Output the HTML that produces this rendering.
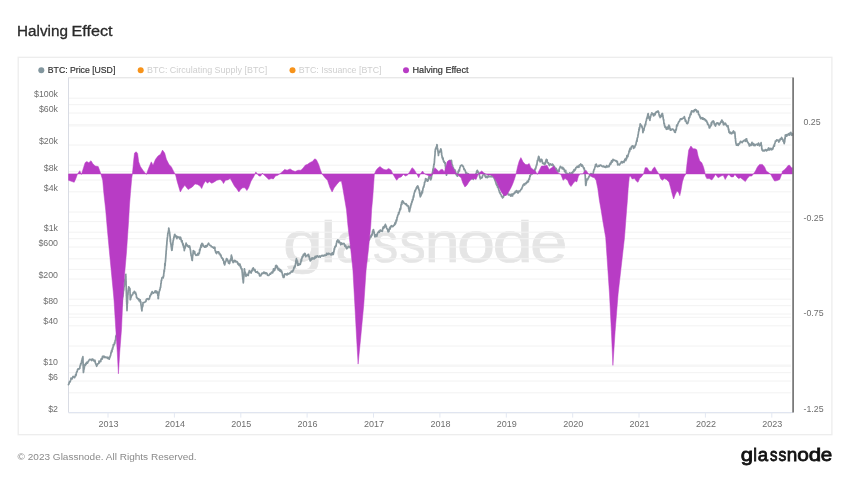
<!DOCTYPE html>
<html><head><meta charset="utf-8"><title>Halving Effect</title>
<style>html,body{margin:0;padding:0;background:#fff;}body{width:850px;height:478px;position:relative;overflow:hidden;font-family:"Liberation Sans",sans-serif;}</style>
</head><body>
<svg width="850" height="478" viewBox="0 0 850 478" style="position:absolute;left:0;top:0">
<rect x="18.2" y="57.3" width="813.7" height="377.4" fill="#fff" stroke="#ededed" stroke-width="1.3"/>
<text y="262" font-family="Liberation Sans, sans-serif" font-size="58" fill="#e5e5e5" stroke="#e5e5e5" stroke-width="0.7"><tspan x="282.93" textLength="39.95" lengthAdjust="spacingAndGlyphs">g</tspan><tspan x="320.32" textLength="15.93" lengthAdjust="spacingAndGlyphs">l</tspan><tspan x="335.26" textLength="33.89" lengthAdjust="spacingAndGlyphs">a</tspan><tspan x="373.05" textLength="25.11" lengthAdjust="spacingAndGlyphs">s</tspan><tspan x="399.39" textLength="26.14" lengthAdjust="spacingAndGlyphs">s</tspan><tspan x="424.69" textLength="34.82" lengthAdjust="spacingAndGlyphs">n</tspan><tspan x="456.98" textLength="38.05" lengthAdjust="spacingAndGlyphs">o</tspan><tspan x="492.59" textLength="40.56" lengthAdjust="spacingAndGlyphs">d</tspan><tspan x="530.09" textLength="37.45" lengthAdjust="spacingAndGlyphs">e</tspan></text>
<line x1="68.5" x2="791.0" y1="413.0" y2="413.0" stroke="#f2f2f2" stroke-width="1"/>
<line x1="68.5" x2="791.0" y1="392.8" y2="392.8" stroke="#f2f2f2" stroke-width="1"/>
<line x1="68.5" x2="791.0" y1="381.0" y2="381.0" stroke="#f2f2f2" stroke-width="1"/>
<line x1="68.5" x2="791.0" y1="372.7" y2="372.7" stroke="#f2f2f2" stroke-width="1"/>
<line x1="68.5" x2="791.0" y1="366.2" y2="366.2" stroke="#f2f2f2" stroke-width="1"/>
<line x1="68.5" x2="791.0" y1="346.0" y2="346.0" stroke="#f2f2f2" stroke-width="1"/>
<line x1="68.5" x2="791.0" y1="325.8" y2="325.8" stroke="#f2f2f2" stroke-width="1"/>
<line x1="68.5" x2="791.0" y1="314.0" y2="314.0" stroke="#f2f2f2" stroke-width="1"/>
<line x1="68.5" x2="791.0" y1="305.7" y2="305.7" stroke="#f2f2f2" stroke-width="1"/>
<line x1="68.5" x2="791.0" y1="299.2" y2="299.2" stroke="#f2f2f2" stroke-width="1"/>
<line x1="68.5" x2="791.0" y1="279.0" y2="279.0" stroke="#f2f2f2" stroke-width="1"/>
<line x1="68.5" x2="791.0" y1="258.8" y2="258.8" stroke="#f2f2f2" stroke-width="1"/>
<line x1="68.5" x2="791.0" y1="247.0" y2="247.0" stroke="#f2f2f2" stroke-width="1"/>
<line x1="68.5" x2="791.0" y1="238.7" y2="238.7" stroke="#f2f2f2" stroke-width="1"/>
<line x1="68.5" x2="791.0" y1="232.2" y2="232.2" stroke="#f2f2f2" stroke-width="1"/>
<line x1="68.5" x2="791.0" y1="212.0" y2="212.0" stroke="#f2f2f2" stroke-width="1"/>
<line x1="68.5" x2="791.0" y1="191.8" y2="191.8" stroke="#f2f2f2" stroke-width="1"/>
<line x1="68.5" x2="791.0" y1="180.0" y2="180.0" stroke="#f2f2f2" stroke-width="1"/>
<line x1="68.5" x2="791.0" y1="171.7" y2="171.7" stroke="#f2f2f2" stroke-width="1"/>
<line x1="68.5" x2="791.0" y1="165.2" y2="165.2" stroke="#f2f2f2" stroke-width="1"/>
<line x1="68.5" x2="791.0" y1="145.0" y2="145.0" stroke="#f2f2f2" stroke-width="1"/>
<line x1="68.5" x2="791.0" y1="124.8" y2="124.8" stroke="#f2f2f2" stroke-width="1"/>
<line x1="68.5" x2="791.0" y1="113.0" y2="113.0" stroke="#f2f2f2" stroke-width="1"/>
<line x1="68.5" x2="791.0" y1="104.7" y2="104.7" stroke="#f2f2f2" stroke-width="1"/>
<line x1="68.5" x2="791.0" y1="98.2" y2="98.2" stroke="#f2f2f2" stroke-width="1"/>
<line x1="68.5" x2="791.0" y1="78.0" y2="78.0" stroke="#f2f2f2" stroke-width="1"/>
<line x1="68.5" x2="791.0" y1="125.9" y2="125.9" stroke="#f3f3f3" stroke-width="1"/>
<line x1="68.5" x2="791.0" y1="173.7" y2="173.7" stroke="#f3f3f3" stroke-width="1"/>
<line x1="68.5" x2="791.0" y1="221.6" y2="221.6" stroke="#f3f3f3" stroke-width="1"/>
<line x1="68.5" x2="791.0" y1="269.4" y2="269.4" stroke="#f3f3f3" stroke-width="1"/>
<line x1="68.5" x2="791.0" y1="317.3" y2="317.3" stroke="#f3f3f3" stroke-width="1"/>
<line x1="68.5" x2="791.0" y1="365.1" y2="365.1" stroke="#f3f3f3" stroke-width="1"/>
<line x1="68.5" x2="793.0" y1="77.6" y2="77.6" stroke="#e6e6e6" stroke-width="1"/>
<line x1="68.5" x2="68.5" y1="77.6" y2="412.6" stroke="#d9dce4" stroke-width="1"/>
<line x1="68.5" x2="793.0" y1="412.6" y2="412.6" stroke="#dde3ef" stroke-width="1"/>
<line x1="108.0" x2="108.0" y1="412.6" y2="417.6" stroke="#e3e8f2" stroke-width="1"/>
<line x1="174.4" x2="174.4" y1="412.6" y2="417.6" stroke="#e3e8f2" stroke-width="1"/>
<line x1="240.8" x2="240.8" y1="412.6" y2="417.6" stroke="#e3e8f2" stroke-width="1"/>
<line x1="307.1" x2="307.1" y1="412.6" y2="417.6" stroke="#e3e8f2" stroke-width="1"/>
<line x1="373.5" x2="373.5" y1="412.6" y2="417.6" stroke="#e3e8f2" stroke-width="1"/>
<line x1="439.9" x2="439.9" y1="412.6" y2="417.6" stroke="#e3e8f2" stroke-width="1"/>
<line x1="506.3" x2="506.3" y1="412.6" y2="417.6" stroke="#e3e8f2" stroke-width="1"/>
<line x1="572.7" x2="572.7" y1="412.6" y2="417.6" stroke="#e3e8f2" stroke-width="1"/>
<line x1="639.0" x2="639.0" y1="412.6" y2="417.6" stroke="#e3e8f2" stroke-width="1"/>
<line x1="705.4" x2="705.4" y1="412.6" y2="417.6" stroke="#e3e8f2" stroke-width="1"/>
<line x1="771.8" x2="771.8" y1="412.6" y2="417.6" stroke="#e3e8f2" stroke-width="1"/>
<path d="M68.5,384.6 L68.7,384.0 L68.9,384.0 L69.1,383.3 L69.3,382.6 L69.5,381.7 L69.7,381.6 L69.8,382.2 L70.0,381.7 L70.2,381.7 L70.4,380.8 L70.6,380.3 L70.8,379.7 L71.0,378.0 L71.2,378.7 L71.7,378.9 L72.2,378.8 L72.7,377.2 L73.1,376.5 L73.6,376.8 L74.1,377.1 L74.6,377.7 L74.8,377.2 L74.9,377.2 L75.1,376.1 L75.3,376.1 L75.5,375.8 L75.6,374.7 L75.8,375.7 L76.0,375.0 L76.2,374.9 L76.3,373.3 L76.5,372.4 L76.7,372.0 L76.9,371.8 L77.0,371.9 L77.2,371.4 L77.4,370.5 L77.6,369.5 L77.7,369.2 L77.9,369.6 L78.3,368.8 L78.8,369.0 L79.2,369.0 L79.6,368.2 L79.7,367.8 L79.8,368.4 L80.0,366.0 L80.1,366.1 L80.2,366.0 L80.3,365.1 L80.5,365.5 L80.6,364.9 L80.7,363.5 L80.8,364.3 L81.0,364.1 L81.1,364.0 L81.2,363.1 L81.4,363.0 L81.5,362.1 L81.7,360.5 L81.8,361.0 L82.0,360.1 L82.1,359.5 L82.3,358.5 L82.4,358.0 L82.6,357.9 L82.7,358.8 L82.9,357.3 L82.9,356.7 L82.9,358.3 L82.9,360.0 L83.0,360.2 L83.0,358.9 L83.0,358.3 L83.0,360.4 L83.0,360.6 L83.0,360.8 L83.1,362.6 L83.1,363.6 L83.1,363.6 L83.1,363.9 L83.1,364.5 L83.1,365.8 L83.2,365.8 L83.2,366.1 L83.2,366.5 L83.2,365.4 L83.2,367.4 L83.2,368.1 L83.2,368.3 L83.3,367.0 L83.3,367.7 L83.3,369.3 L83.3,368.3 L83.3,369.4 L83.3,370.9 L83.4,370.1 L83.4,372.2 L83.4,372.4 L83.4,372.2 L83.5,372.0 L83.6,371.8 L83.6,371.1 L83.7,371.2 L83.8,369.7 L83.9,369.1 L84.0,369.5 L84.0,368.7 L84.1,367.5 L84.2,368.0 L84.3,368.3 L84.4,366.7 L84.4,365.2 L84.5,365.2 L84.6,365.1 L85.0,364.5 L85.3,365.4 L85.7,363.7 L86.0,364.5 L86.4,362.8 L86.7,362.3 L87.1,362.8 L87.4,363.2 L87.7,362.8 L87.9,362.1 L88.2,361.5 L88.5,361.0 L88.8,360.9 L89.0,360.1 L89.3,359.9 L89.6,359.4 L90.1,359.4 L90.6,359.7 L91.1,359.6 L91.6,360.5 L92.1,359.0 L92.5,359.1 L92.8,359.2 L93.2,359.6 L93.5,360.7 L93.9,360.3 L94.2,360.9 L94.6,361.4 L94.8,360.1 L95.0,360.6 L95.2,362.0 L95.4,362.9 L95.5,363.4 L95.7,363.4 L95.9,364.4 L96.1,364.8 L96.3,364.8 L96.7,366.3 L97.1,365.2 L97.5,364.1 L98.0,363.9 L98.4,363.5 L98.8,363.5 L99.0,361.1 L99.3,361.6 L99.5,362.6 L99.8,361.1 L100.0,361.1 L100.3,361.5 L100.5,361.4 L100.8,361.5 L101.0,359.0 L101.3,359.1 L101.6,358.5 L101.9,358.9 L102.2,359.1 L102.5,356.3 L102.9,357.8 L103.2,356.3 L103.5,357.0 L103.8,356.2 L104.3,356.4 L104.8,357.5 L105.3,357.0 L105.7,357.1 L106.2,357.6 L106.7,357.4 L107.2,357.2 L107.7,358.3 L108.2,358.3 L108.7,357.4 L109.2,359.2 L109.7,357.2 L109.9,357.3 L110.0,356.3 L110.2,355.9 L110.4,355.9 L110.6,355.2 L110.7,355.0 L110.9,353.1 L111.1,352.2 L111.2,353.0 L111.4,352.4 L111.5,351.2 L111.6,350.3 L111.8,351.7 L111.9,351.5 L112.0,351.6 L112.1,349.7 L112.3,349.4 L112.4,348.2 L112.5,348.8 L112.6,349.3 L112.8,347.5 L112.9,348.3 L113.0,347.1 L113.2,346.6 L113.3,344.7 L113.5,346.1 L113.7,345.2 L113.8,344.3 L114.0,344.4 L114.2,344.2 L114.4,344.6 L114.5,342.7 L114.7,342.8 L114.8,343.4 L114.9,343.2 L115.0,341.6 L115.2,340.4 L115.3,340.9 L115.4,340.2 L115.5,339.7 L115.6,340.1 L115.7,338.8 L115.8,336.6 L115.9,336.9 L116.1,335.7 L116.2,336.8 L116.3,336.6 L116.4,335.8 L116.5,335.3 L116.6,335.5 L116.6,334.8 L116.7,335.1 L116.8,334.0 L116.9,334.1 L116.9,334.1 L117.0,333.9 L117.1,332.0 L117.2,332.1 L117.2,329.9 L117.3,329.4 L117.4,328.3 L117.5,329.8 L117.5,328.4 L117.6,328.5 L117.7,328.1 L117.8,327.8 L117.9,327.0 L117.9,327.0 L118.0,327.8 L118.1,326.6 L118.2,326.2 L118.2,326.1 L118.3,325.0 L118.4,323.5 L118.5,323.2 L118.5,324.0 L118.6,322.0 L118.7,321.8 L118.8,322.6 L118.9,322.4 L118.9,321.5 L119.0,321.4 L119.1,320.7 L119.2,319.2 L119.2,318.1 L119.3,318.1 L119.4,318.9 L119.5,317.8 L119.5,316.9 L119.6,316.4 L119.7,315.4 L119.8,315.8 L119.8,314.9 L119.9,315.3 L120.0,314.5 L120.1,314.2 L120.1,313.5 L120.2,312.1 L120.3,313.2 L120.3,312.6 L120.4,310.7 L120.5,310.7 L120.5,311.2 L120.6,310.6 L120.6,310.9 L120.7,310.8 L120.8,310.3 L120.8,309.7 L120.9,309.8 L121.0,309.2 L121.0,308.5 L121.1,306.2 L121.2,307.2 L121.2,307.5 L121.3,306.2 L121.3,305.3 L121.4,306.4 L121.5,303.9 L121.5,304.3 L121.6,305.6 L121.7,303.3 L121.7,303.4 L121.8,304.0 L121.9,302.5 L121.9,302.2 L122.0,302.0 L122.1,300.4 L122.1,300.1 L122.2,300.0 L122.2,300.0 L122.3,299.1 L122.4,298.4 L122.4,297.3 L122.5,297.1 L122.6,297.6 L122.6,296.9 L122.7,295.7 L122.8,295.0 L122.8,297.0 L122.9,296.3 L123.0,295.4 L123.0,292.5 L123.1,293.5 L123.1,293.4 L123.2,294.0 L123.3,293.0 L123.3,292.0 L123.4,291.8 L123.5,289.7 L123.5,290.7 L123.6,290.1 L123.7,289.2 L123.7,289.9 L123.8,290.2 L123.9,287.7 L123.9,287.1 L124.0,287.3 L124.1,286.9 L124.1,286.1 L124.2,285.1 L124.2,286.7 L124.3,286.1 L124.4,284.1 L124.4,283.0 L124.5,284.4 L124.6,284.1 L124.6,284.3 L124.7,283.4 L124.8,281.6 L124.8,281.4 L124.9,279.4 L125.0,279.4 L125.0,279.6 L125.1,279.7 L125.2,278.6 L125.2,278.4 L125.3,278.4 L125.3,278.0 L125.4,277.8 L125.5,277.1 L125.5,276.2 L125.6,276.4 L125.7,275.6 L125.7,274.5 L125.8,274.3 L125.8,274.7 L125.8,275.3 L125.8,275.9 L125.9,276.3 L125.9,276.9 L125.9,277.2 L125.9,276.8 L125.9,278.1 L125.9,279.3 L125.9,279.6 L126.0,279.6 L126.0,280.3 L126.0,279.9 L126.0,279.4 L126.0,280.8 L126.0,281.0 L126.0,282.5 L126.1,282.0 L126.1,281.1 L126.1,282.2 L126.1,284.7 L126.1,284.5 L126.1,284.0 L126.1,284.6 L126.2,285.9 L126.2,286.7 L126.2,287.0 L126.2,288.4 L126.2,288.6 L126.2,288.5 L126.2,289.1 L126.3,290.4 L126.3,290.7 L126.3,291.1 L126.3,290.1 L126.3,290.7 L126.3,291.8 L126.3,291.7 L126.4,293.0 L126.4,293.4 L126.4,294.0 L126.4,293.8 L126.4,295.9 L126.4,296.0 L126.4,295.4 L126.5,295.6 L126.5,297.8 L126.5,296.8 L126.5,297.6 L126.5,298.2 L126.5,298.1 L126.5,297.5 L126.6,298.5 L126.6,299.3 L126.6,300.4 L126.6,300.3 L126.6,300.8 L126.6,301.6 L126.7,302.0 L126.7,302.2 L126.7,302.5 L126.7,302.7 L126.7,303.7 L126.7,303.2 L126.8,303.6 L126.8,304.5 L126.8,304.0 L126.8,304.9 L126.8,304.4 L126.9,305.5 L126.9,307.1 L126.9,307.9 L126.9,308.1 L126.9,308.3 L126.9,307.9 L127.0,310.3 L127.0,310.5 L127.0,310.6 L127.0,309.6 L127.1,309.2 L127.1,307.6 L127.1,308.5 L127.1,308.7 L127.2,306.4 L127.2,306.7 L127.2,306.9 L127.2,305.0 L127.3,304.0 L127.3,303.9 L127.3,303.9 L127.3,303.0 L127.4,303.4 L127.4,303.4 L127.4,303.4 L127.4,303.1 L127.5,303.3 L127.5,302.8 L127.5,300.6 L127.5,300.1 L127.6,299.2 L127.6,298.6 L127.6,298.8 L127.6,298.6 L127.7,298.6 L127.7,296.8 L127.7,296.2 L127.7,296.5 L127.8,296.2 L127.8,295.9 L127.8,295.4 L127.9,294.5 L127.9,294.9 L128.0,294.5 L128.0,293.8 L128.1,292.9 L128.1,292.6 L128.2,290.4 L128.2,290.6 L128.2,291.0 L128.3,289.8 L128.3,290.3 L128.4,290.2 L128.4,288.7 L128.5,288.7 L128.5,288.4 L128.6,288.5 L128.6,288.4 L128.7,287.6 L128.7,286.8 L128.9,287.1 L129.2,287.7 L129.4,288.7 L129.7,289.0 L129.9,288.9 L129.9,288.4 L129.9,289.3 L130.0,289.6 L130.0,289.8 L130.0,290.8 L130.0,291.2 L130.0,292.1 L130.0,293.0 L130.1,292.9 L130.1,295.1 L130.1,294.3 L130.1,295.3 L130.1,295.3 L130.2,296.3 L130.2,294.5 L130.2,295.3 L130.2,296.6 L130.2,297.5 L130.2,299.4 L130.3,298.9 L130.3,299.7 L130.3,299.3 L130.5,299.6 L130.6,298.8 L130.8,297.8 L131.0,297.6 L131.1,296.2 L131.3,296.9 L131.5,295.4 L131.6,295.4 L131.8,295.4 L132.1,295.0 L132.4,294.4 L132.6,294.7 L132.9,293.8 L133.2,292.6 L133.5,292.7 L133.7,292.7 L134.0,292.5 L134.3,291.4 L134.7,292.8 L135.2,293.5 L135.6,292.4 L135.7,293.0 L135.8,293.0 L135.9,294.5 L136.0,293.9 L136.1,294.9 L136.2,294.8 L136.3,294.9 L136.4,296.2 L136.5,297.4 L136.6,297.2 L136.7,297.0 L136.8,297.9 L137.3,298.1 L137.8,298.4 L138.2,299.4 L138.7,298.8 L138.9,298.9 L139.1,300.8 L139.3,300.2 L139.5,300.7 L139.8,300.2 L140.0,300.7 L140.2,299.9 L140.4,302.4 L140.6,302.4 L140.7,302.0 L140.7,301.7 L140.8,301.8 L140.9,304.1 L140.9,304.1 L141.0,304.6 L141.1,305.0 L141.1,305.5 L141.2,305.3 L141.3,306.3 L141.3,306.0 L141.4,307.1 L141.5,308.1 L141.5,308.8 L141.6,308.9 L141.7,308.7 L141.7,309.7 L141.8,310.2 L141.9,310.8 L142.0,310.2 L142.0,309.1 L142.1,308.2 L142.2,307.4 L142.3,306.6 L142.4,306.5 L142.4,306.6 L142.5,306.4 L142.6,306.1 L142.7,306.8 L142.8,304.8 L142.9,304.2 L142.9,305.7 L143.0,302.7 L143.1,302.6 L143.6,302.5 L144.1,302.5 L144.5,302.5 L145.0,302.0 L145.3,301.8 L145.6,301.3 L145.9,301.4 L146.3,299.3 L146.6,299.0 L146.9,299.5 L147.5,298.8 L148.1,298.6 L148.7,299.6 L148.9,298.7 L149.1,299.0 L149.3,298.9 L149.5,298.3 L149.6,297.9 L149.8,297.1 L150.0,295.6 L150.2,295.7 L150.4,295.8 L150.6,295.1 L150.8,294.6 L151.0,294.7 L151.2,293.4 L151.3,293.6 L151.5,294.3 L151.7,292.5 L151.9,292.1 L152.1,291.5 L152.5,292.9 L152.9,292.7 L153.4,293.2 L153.8,292.6 L154.2,292.4 L154.7,292.3 L155.2,290.8 L155.6,292.1 L156.1,292.8 L156.6,291.1 L157.0,292.2 L157.5,292.1 L157.6,292.9 L157.6,293.4 L157.7,292.6 L157.7,293.5 L157.8,295.4 L157.8,294.9 L157.9,294.7 L158.0,294.7 L158.0,295.1 L158.1,296.6 L158.1,298.4 L158.2,298.0 L158.3,297.7 L158.4,298.6 L158.4,296.6 L158.5,295.5 L158.6,295.7 L158.7,295.4 L158.8,293.9 L158.9,293.0 L158.9,293.4 L159.0,293.2 L159.1,291.7 L159.2,292.0 L159.3,291.1 L159.4,291.3 L159.5,290.7 L159.6,290.2 L159.7,289.6 L159.8,290.0 L159.9,290.1 L160.1,288.7 L160.2,288.7 L160.3,287.3 L160.4,287.1 L160.5,287.2 L160.6,287.5 L160.7,285.8 L160.8,285.3 L160.8,285.0 L160.9,283.4 L161.0,283.6 L161.1,282.9 L161.2,283.0 L161.2,281.7 L161.3,280.4 L161.4,281.0 L161.4,281.1 L161.5,280.3 L161.6,280.7 L161.7,279.7 L161.8,278.8 L161.8,279.0 L161.9,278.0 L162.3,277.3 L162.8,277.6 L163.2,277.8 L163.3,277.3 L163.3,277.0 L163.4,276.0 L163.5,276.0 L163.5,276.6 L163.6,274.9 L163.7,276.1 L163.7,274.2 L163.8,273.7 L163.9,273.3 L163.9,273.5 L164.0,271.6 L164.1,270.1 L164.1,271.2 L164.2,271.4 L164.3,271.0 L164.3,272.0 L164.4,269.8 L164.5,269.5 L164.5,269.4 L164.6,268.6 L164.7,269.0 L164.7,266.8 L164.8,266.3 L164.8,263.7 L164.9,265.4 L165.0,264.9 L165.0,265.3 L165.1,266.0 L165.2,264.5 L165.2,263.4 L165.3,262.6 L165.3,261.8 L165.4,261.8 L165.4,261.7 L165.5,261.2 L165.5,260.7 L165.5,260.0 L165.6,260.3 L165.6,259.7 L165.6,258.8 L165.7,258.7 L165.7,257.8 L165.8,256.5 L165.8,257.6 L165.8,256.9 L165.9,255.4 L165.9,256.0 L165.9,255.4 L166.0,253.5 L166.0,254.2 L166.0,254.1 L166.1,253.9 L166.1,253.0 L166.1,252.2 L166.2,250.6 L166.2,251.5 L166.2,250.9 L166.3,250.2 L166.3,250.0 L166.4,249.5 L166.4,249.4 L166.4,248.4 L166.5,247.9 L166.5,246.0 L166.5,246.3 L166.6,246.8 L166.6,247.2 L166.6,245.8 L166.7,245.2 L166.7,245.9 L166.7,244.5 L166.8,244.4 L166.8,244.8 L166.9,243.4 L166.9,243.5 L166.9,241.9 L167.0,241.6 L167.0,241.1 L167.0,240.7 L167.1,241.0 L167.1,240.3 L167.2,239.5 L167.2,238.5 L167.3,238.6 L167.4,237.2 L167.4,237.5 L167.5,237.4 L167.6,236.4 L167.6,236.4 L167.7,234.6 L167.8,235.3 L167.8,233.6 L167.9,233.3 L168.0,233.0 L168.1,232.7 L168.1,233.2 L168.2,232.5 L168.3,231.7 L168.3,231.7 L168.4,232.2 L168.5,230.9 L168.5,230.4 L168.6,230.6 L168.7,229.7 L168.7,228.0 L168.8,228.6 L168.9,230.7 L168.9,228.4 L169.0,229.3 L169.1,230.2 L169.2,231.2 L169.2,231.6 L169.3,231.4 L169.4,231.1 L169.4,232.1 L169.5,233.4 L169.6,232.6 L169.7,232.7 L169.7,233.7 L169.8,234.1 L169.8,234.3 L169.9,234.9 L169.9,236.0 L170.0,235.9 L170.0,236.0 L170.1,236.7 L170.1,237.5 L170.2,237.6 L170.2,238.4 L170.2,239.5 L170.3,240.5 L170.3,241.5 L170.4,240.4 L170.4,240.6 L170.5,239.5 L170.5,242.0 L170.6,242.0 L170.7,242.6 L170.7,243.5 L170.8,242.8 L170.9,244.2 L171.0,244.6 L171.0,243.8 L171.1,245.3 L171.2,246.8 L171.3,245.4 L171.4,247.1 L171.4,247.6 L171.5,248.3 L171.6,248.8 L171.7,249.9 L171.7,249.5 L171.8,250.4 L171.9,250.2 L172.0,250.2 L172.0,248.9 L172.1,248.6 L172.1,249.5 L172.2,248.6 L172.3,247.5 L172.3,246.2 L172.4,245.6 L172.4,245.8 L172.5,246.1 L172.6,245.6 L172.6,245.1 L172.7,244.3 L172.8,244.7 L172.8,243.3 L172.9,242.4 L172.9,242.8 L173.0,241.9 L173.1,241.2 L173.2,240.4 L173.3,240.1 L173.4,240.3 L173.5,239.9 L173.6,238.3 L173.7,238.7 L173.8,238.3 L173.9,237.0 L174.0,237.6 L174.1,236.7 L174.2,236.1 L174.3,236.3 L174.4,236.5 L174.5,234.9 L174.6,234.6 L174.9,234.3 L175.2,236.6 L175.6,235.7 L175.9,236.7 L176.2,236.0 L176.5,237.0 L176.9,238.6 L177.2,236.8 L177.7,236.6 L178.2,237.5 L178.8,237.4 L179.3,237.1 L179.8,239.0 L180.3,237.9 L180.5,237.2 L180.7,238.8 L180.8,237.9 L181.0,239.8 L181.2,239.6 L181.4,240.3 L181.5,241.6 L181.7,241.6 L181.9,240.8 L182.1,240.6 L182.2,242.8 L182.4,243.1 L182.6,243.0 L182.7,244.3 L182.8,244.8 L183.0,245.3 L183.2,243.8 L183.3,244.9 L183.4,246.4 L183.6,247.1 L183.8,247.8 L183.9,246.0 L184.1,247.5 L184.2,248.5 L184.3,250.6 L184.5,249.2 L184.6,248.5 L184.8,248.3 L184.9,248.5 L185.1,247.3 L185.2,247.8 L185.3,246.3 L185.5,246.2 L185.6,245.3 L185.8,245.2 L185.9,244.3 L186.1,243.1 L186.2,244.0 L186.5,244.6 L186.8,244.4 L187.1,245.1 L187.4,246.2 L187.8,245.4 L188.1,246.0 L188.4,246.9 L188.7,247.1 L189.1,247.2 L189.6,246.0 L190.0,247.8 L190.1,248.5 L190.1,248.7 L190.2,248.9 L190.2,249.6 L190.3,249.7 L190.4,249.6 L190.4,250.0 L190.5,250.6 L190.6,251.0 L190.6,251.1 L190.7,252.7 L190.7,252.2 L190.8,253.5 L190.9,253.3 L191.0,254.4 L191.1,255.8 L191.2,255.8 L191.3,255.4 L191.4,256.1 L191.5,256.7 L191.5,255.9 L191.6,256.7 L191.7,257.8 L191.8,258.0 L191.9,258.8 L192.0,259.8 L192.1,260.5 L192.2,260.5 L192.3,260.5 L192.3,259.3 L192.4,258.8 L192.4,258.2 L192.5,257.6 L192.6,257.2 L192.6,255.7 L192.7,255.8 L192.7,255.8 L192.8,254.8 L192.9,254.9 L192.9,254.9 L193.0,254.2 L193.0,255.2 L193.1,252.0 L193.2,252.2 L193.2,250.9 L193.3,252.1 L193.3,253.4 L193.4,250.7 L193.7,251.1 L193.9,252.1 L194.2,252.1 L194.4,253.0 L194.7,251.7 L194.9,253.6 L195.2,254.2 L195.4,254.5 L195.7,254.4 L195.9,255.3 L196.4,255.0 L196.9,255.3 L197.4,254.9 L197.9,253.5 L198.4,255.0 L198.5,254.7 L198.6,254.8 L198.8,253.4 L198.9,253.2 L199.0,253.3 L199.1,252.7 L199.3,253.0 L199.4,253.3 L199.5,251.1 L199.6,249.3 L199.8,250.3 L199.9,250.9 L200.0,249.6 L200.2,249.8 L200.3,248.3 L200.5,247.4 L200.6,247.9 L200.8,246.6 L200.9,245.2 L201.1,245.0 L201.2,247.1 L201.4,247.1 L201.5,245.0 L201.7,243.9 L201.8,243.9 L202.0,243.3 L202.3,244.6 L202.6,244.5 L202.8,244.0 L203.1,245.8 L203.4,245.4 L203.6,246.1 L203.9,246.4 L204.2,246.7 L204.6,247.2 L205.1,246.8 L205.5,246.0 L205.9,247.1 L206.1,245.7 L206.4,245.8 L206.6,246.1 L206.9,245.9 L207.1,246.0 L207.4,245.4 L207.6,244.7 L208.1,244.2 L208.6,243.2 L209.1,244.3 L209.6,245.2 L210.1,245.3 L210.5,245.5 L210.9,245.6 L211.3,246.6 L211.8,246.5 L212.2,247.1 L212.6,247.0 L213.0,247.3 L213.5,248.2 L213.9,247.3 L214.4,247.3 L214.8,247.5 L214.9,247.4 L215.0,249.4 L215.1,250.6 L215.2,250.1 L215.3,250.6 L215.5,251.5 L215.6,251.8 L215.7,252.5 L215.8,251.3 L215.9,251.6 L216.0,252.7 L216.5,253.5 L217.1,252.6 L217.6,251.8 L218.0,251.8 L218.3,251.9 L218.7,251.9 L219.1,253.8 L219.5,253.2 L219.8,253.6 L220.2,254.3 L220.4,255.7 L220.7,255.5 L220.9,255.0 L221.1,255.8 L221.3,257.2 L221.6,257.3 L221.8,258.1 L222.0,257.8 L222.2,258.3 L222.5,258.2 L222.7,258.7 L222.9,260.1 L223.0,258.8 L223.2,259.7 L223.3,260.5 L223.5,260.5 L223.7,260.9 L223.8,262.2 L224.0,263.7 L224.2,263.6 L224.3,263.6 L224.5,262.6 L224.6,265.0 L224.8,264.5 L224.9,264.1 L225.1,262.7 L225.2,262.7 L225.4,261.7 L225.5,261.9 L225.7,261.9 L225.8,261.3 L225.9,261.0 L226.1,259.8 L226.2,260.6 L226.4,259.2 L226.5,258.5 L226.7,258.7 L227.0,258.9 L227.2,259.1 L227.5,259.9 L227.7,260.9 L227.9,260.4 L228.2,261.3 L228.4,262.9 L228.7,263.2 L228.9,263.0 L229.2,263.4 L229.4,263.6 L229.5,263.1 L229.7,263.2 L229.8,262.4 L230.0,260.2 L230.1,260.8 L230.2,260.1 L230.4,260.6 L230.5,259.7 L230.7,259.6 L230.8,260.6 L230.9,258.5 L231.1,257.4 L231.2,256.5 L231.4,255.2 L231.5,256.3 L231.6,256.9 L231.8,257.2 L231.9,256.8 L232.0,257.2 L232.2,259.1 L232.3,259.1 L232.4,259.7 L232.6,260.7 L232.7,261.4 L233.1,262.6 L233.6,261.9 L234.0,260.9 L234.5,260.5 L234.9,260.3 L235.2,261.8 L235.5,260.9 L235.7,261.4 L236.0,261.7 L236.3,261.9 L236.6,261.8 L236.9,261.5 L237.1,262.1 L237.4,261.9 L237.7,263.7 L238.1,264.4 L238.6,263.5 L239.0,265.2 L239.4,265.6 L239.9,264.0 L240.3,265.6 L240.5,266.6 L240.7,268.0 L240.8,266.4 L241.0,267.4 L241.2,268.0 L241.4,268.3 L241.5,268.7 L241.7,269.8 L241.9,269.2 L241.9,268.7 L242.0,269.0 L242.0,269.9 L242.1,270.5 L242.1,271.7 L242.2,272.4 L242.2,272.7 L242.3,272.7 L242.3,273.1 L242.4,274.5 L242.4,275.2 L242.5,275.3 L242.5,275.3 L242.6,276.9 L242.6,276.3 L242.7,277.2 L242.7,278.2 L242.8,277.9 L242.8,278.8 L242.9,278.1 L242.9,279.6 L243.0,279.9 L243.0,279.0 L243.1,280.6 L243.1,280.4 L243.2,282.1 L243.2,281.6 L243.3,282.1 L243.3,282.8 L243.3,282.2 L243.4,282.0 L243.4,281.1 L243.5,281.3 L243.5,280.6 L243.5,280.2 L243.6,277.7 L243.6,279.3 L243.6,278.7 L243.7,277.0 L243.7,277.4 L243.8,277.5 L243.8,277.6 L243.8,275.9 L243.9,276.8 L243.9,275.6 L243.9,276.7 L244.0,275.0 L244.0,274.7 L244.1,273.5 L244.1,272.3 L244.1,273.1 L244.2,273.0 L244.2,273.1 L244.2,272.3 L244.3,270.8 L244.3,269.2 L244.4,269.0 L244.4,269.2 L244.5,269.0 L244.6,270.4 L244.7,271.0 L244.9,271.1 L245.0,271.7 L245.1,272.0 L245.2,272.7 L245.3,273.5 L245.4,274.3 L245.5,273.7 L245.6,273.2 L245.8,275.4 L245.9,275.5 L246.0,276.5 L246.1,275.8 L246.5,275.4 L246.9,275.5 L247.4,274.4 L247.8,275.1 L248.0,275.1 L248.1,275.3 L248.3,275.5 L248.5,273.5 L248.7,272.2 L248.8,272.8 L249.0,273.0 L249.2,272.3 L249.3,270.7 L249.5,271.2 L249.8,272.1 L250.1,272.4 L250.5,272.0 L250.8,272.6 L251.1,273.0 L251.3,272.2 L251.4,270.6 L251.6,271.3 L251.8,271.4 L251.9,270.8 L252.1,270.9 L252.3,269.7 L252.5,269.3 L252.6,268.7 L252.8,268.9 L253.0,269.4 L253.1,268.0 L253.3,267.8 L253.5,269.3 L253.7,269.3 L254.0,269.4 L254.2,270.5 L254.4,269.8 L254.6,269.9 L254.9,269.5 L255.1,270.8 L255.3,271.4 L255.7,272.1 L256.1,272.2 L256.6,272.0 L257.0,272.4 L257.4,271.6 L257.8,272.9 L258.1,273.1 L258.4,272.8 L258.7,273.2 L259.1,273.5 L259.4,275.1 L259.7,276.0 L260.0,275.4 L260.4,275.7 L260.8,275.8 L261.2,274.6 L261.7,273.4 L262.1,273.3 L262.5,273.1 L262.9,273.6 L263.4,273.3 L263.8,272.1 L264.3,273.2 L264.8,272.4 L265.3,273.8 L265.7,272.8 L266.2,273.4 L266.6,273.0 L267.0,273.4 L267.4,275.0 L267.9,275.4 L268.3,275.5 L268.7,275.5 L269.1,275.0 L269.5,274.3 L269.9,274.0 L270.2,273.5 L270.6,274.1 L271.0,273.2 L271.4,272.8 L271.7,272.1 L272.1,272.3 L272.4,272.2 L272.7,272.9 L272.9,272.1 L273.2,270.8 L273.5,268.8 L273.8,269.9 L274.0,270.8 L274.3,270.2 L274.6,269.6 L274.8,270.2 L274.9,269.7 L275.1,268.1 L275.3,268.3 L275.5,267.9 L275.6,265.8 L275.8,265.9 L276.1,265.3 L276.4,266.3 L276.7,267.4 L277.0,266.9 L277.3,266.2 L277.6,268.6 L277.9,268.7 L278.3,269.9 L278.8,268.3 L279.2,269.6 L279.6,270.8 L280.1,271.2 L280.5,269.6 L280.7,270.2 L280.9,270.3 L281.1,271.4 L281.3,272.1 L281.5,271.9 L281.7,271.1 L281.9,272.6 L282.1,272.7 L282.3,273.6 L282.4,274.0 L282.6,275.4 L282.7,275.9 L282.9,275.2 L283.0,275.9 L283.2,277.4 L283.3,276.6 L283.5,277.1 L283.8,277.5 L284.0,277.4 L284.2,276.5 L284.5,274.7 L284.8,273.8 L285.0,274.2 L285.2,274.2 L285.5,274.2 L286.0,273.8 L286.5,274.8 L287.0,275.0 L287.5,273.4 L288.0,274.2 L288.4,274.0 L288.8,273.5 L289.2,273.4 L289.7,273.6 L290.1,272.6 L290.5,272.8 L290.9,272.1 L291.2,271.6 L291.6,271.9 L291.9,271.0 L292.3,271.1 L292.6,271.8 L293.0,270.4 L293.2,269.9 L293.4,270.0 L293.6,269.0 L293.7,269.4 L293.9,267.6 L294.1,268.0 L294.3,267.1 L294.5,266.3 L294.6,267.6 L294.8,265.9 L295.0,266.9 L295.2,265.6 L295.3,266.2 L295.4,264.2 L295.4,264.7 L295.5,264.8 L295.6,263.4 L295.7,262.7 L295.8,263.9 L295.8,262.5 L295.9,261.2 L296.0,260.4 L296.1,260.5 L296.2,260.2 L296.2,259.7 L296.3,260.3 L296.4,258.7 L296.5,259.5 L296.6,260.7 L296.7,259.6 L296.8,261.0 L296.9,262.3 L297.0,260.9 L297.1,260.8 L297.3,261.1 L297.4,261.0 L297.5,262.8 L297.6,262.1 L297.7,263.8 L297.8,265.4 L297.9,264.1 L298.0,265.2 L298.4,263.6 L298.9,265.0 L299.3,264.2 L299.8,264.2 L300.2,264.4 L300.3,264.3 L300.5,263.4 L300.6,263.0 L300.7,262.2 L300.9,262.1 L301.0,260.9 L301.1,261.0 L301.2,259.4 L301.4,259.5 L301.5,261.0 L301.6,259.9 L301.8,258.3 L301.9,258.6 L302.1,257.5 L302.3,256.4 L302.5,256.3 L302.7,257.1 L302.9,256.8 L303.1,256.1 L303.3,255.0 L303.5,254.3 L303.7,255.4 L303.9,254.5 L304.3,254.1 L304.7,253.3 L305.1,253.7 L305.6,256.7 L306.0,255.3 L306.4,255.9 L306.8,255.9 L307.3,255.6 L307.7,255.3 L308.2,254.3 L308.6,254.9 L308.7,256.5 L308.9,255.9 L309.0,257.1 L309.1,256.0 L309.3,256.9 L309.4,257.9 L309.5,259.1 L309.6,258.3 L309.8,259.5 L309.9,260.1 L310.0,259.8 L310.2,260.8 L310.3,260.9 L310.7,260.0 L311.1,260.1 L311.5,258.1 L311.9,259.0 L312.3,259.1 L312.7,257.8 L313.1,258.1 L313.6,258.8 L314.0,258.1 L314.4,258.8 L314.8,257.5 L315.2,256.3 L315.5,257.8 L315.9,257.4 L316.2,257.4 L316.6,256.0 L316.9,256.4 L317.3,255.8 L317.7,256.5 L318.1,256.3 L318.6,257.2 L319.0,256.4 L319.4,256.0 L319.8,256.5 L320.2,257.2 L320.7,256.4 L321.1,255.8 L321.6,255.6 L322.0,255.9 L322.5,255.3 L322.9,255.8 L323.4,255.6 L323.8,256.0 L324.2,255.1 L324.6,255.5 L325.0,255.1 L325.4,255.3 L325.9,255.3 L326.3,255.2 L326.7,253.3 L327.1,253.6 L327.5,254.0 L328.0,254.5 L328.4,253.3 L328.9,253.4 L329.4,253.8 L329.8,253.9 L330.3,254.5 L330.8,254.2 L331.3,254.9 L331.8,253.5 L332.2,252.8 L332.7,254.6 L333.2,254.4 L333.3,254.3 L333.4,253.7 L333.5,253.4 L333.6,251.8 L333.7,252.5 L333.8,251.4 L333.9,251.8 L334.0,251.0 L334.2,249.0 L334.3,248.5 L334.4,249.8 L334.5,249.0 L334.6,248.3 L334.7,248.2 L334.8,247.4 L334.9,246.8 L335.0,246.8 L335.2,246.4 L335.3,247.0 L335.5,245.9 L335.7,246.5 L335.8,246.4 L336.0,246.0 L336.2,245.1 L336.3,243.9 L336.5,243.1 L336.7,242.4 L336.8,241.4 L337.0,241.3 L337.2,240.6 L337.3,241.6 L337.5,240.4 L337.7,240.6 L337.9,239.8 L338.1,241.1 L338.4,241.6 L338.6,241.6 L338.8,242.7 L339.3,241.0 L339.7,242.7 L340.2,242.9 L340.7,244.8 L341.1,243.6 L341.6,243.0 L342.1,244.2 L342.6,243.8 L343.1,243.8 L343.5,243.5 L344.0,243.4 L344.5,244.3 L344.7,245.4 L344.9,246.4 L345.1,245.5 L345.3,245.8 L345.5,245.5 L345.7,246.9 L345.9,246.1 L346.1,247.4 L346.3,247.9 L346.8,248.8 L347.3,247.2 L347.8,247.9 L348.2,246.8 L348.7,246.3 L349.2,246.5 L349.6,247.1 L350.1,247.8 L350.5,246.4 L351.0,245.7 L351.4,245.7 L351.9,247.6 L352.3,247.1 L352.8,245.8 L353.2,244.3 L353.7,244.5 L354.1,245.8 L354.6,246.6 L355.0,245.1 L355.5,244.5 L355.9,244.2 L356.4,243.0 L356.8,244.4 L357.3,243.4 L357.7,244.4 L358.2,242.7 L358.6,242.3 L359.1,243.1 L359.5,242.6 L360.0,243.1 L360.5,242.9 L360.9,241.9 L361.4,242.6 L361.8,242.9 L362.3,241.0 L362.7,242.8 L363.2,242.4 L363.6,242.3 L364.1,240.3 L364.5,240.3 L365.0,240.8 L365.4,241.3 L365.8,239.7 L366.2,239.4 L366.6,238.4 L367.0,239.1 L367.4,239.6 L367.9,238.2 L368.3,238.4 L368.7,239.0 L369.1,239.9 L369.5,239.4 L369.9,238.3 L370.1,237.1 L370.3,236.5 L370.6,236.2 L370.8,236.4 L371.0,236.1 L371.2,236.9 L371.4,235.9 L371.6,234.3 L371.9,235.3 L372.1,235.0 L372.3,233.7 L372.5,232.8 L372.6,231.2 L372.8,231.0 L373.0,232.0 L373.1,230.8 L373.3,229.7 L373.4,230.1 L373.6,229.9 L373.7,230.8 L373.8,231.5 L373.9,232.5 L374.0,231.6 L374.1,232.9 L374.2,232.3 L374.3,233.5 L374.4,233.9 L374.5,234.4 L374.6,235.4 L374.7,235.3 L374.8,236.4 L374.9,236.9 L375.0,236.6 L375.3,235.9 L375.6,235.2 L375.9,234.8 L376.2,234.7 L376.5,234.5 L376.8,236.4 L377.1,235.1 L377.4,233.9 L377.7,233.0 L378.0,232.3 L378.3,232.1 L378.6,232.2 L379.0,231.1 L379.3,232.3 L379.6,231.0 L379.9,231.5 L380.2,230.0 L380.7,230.1 L381.1,230.8 L381.6,231.1 L382.1,231.3 L382.3,231.1 L382.5,230.6 L382.7,228.7 L382.9,228.6 L383.1,227.1 L383.3,228.4 L383.5,228.3 L383.7,227.7 L383.9,226.7 L384.1,226.3 L384.3,227.6 L384.5,227.6 L384.7,226.1 L384.9,225.5 L385.2,224.9 L385.4,224.4 L385.7,225.5 L386.0,225.9 L386.3,226.5 L386.5,227.5 L386.8,228.6 L387.0,228.7 L387.2,228.9 L387.4,229.5 L387.6,229.7 L387.9,230.7 L388.1,231.9 L388.3,230.5 L388.5,231.3 L388.7,231.6 L388.9,231.5 L389.1,229.8 L389.4,228.8 L389.6,227.8 L389.8,229.2 L390.0,229.1 L390.2,228.8 L390.4,226.6 L390.7,227.0 L390.9,226.6 L391.1,226.6 L391.5,225.7 L391.9,226.7 L392.3,226.7 L392.7,226.2 L393.1,226.3 L393.5,225.4 L393.9,225.4 L394.3,225.2 L394.5,225.2 L394.6,224.4 L394.8,223.9 L394.9,223.4 L395.1,222.6 L395.3,224.1 L395.4,223.1 L395.6,222.4 L395.8,223.2 L395.9,222.6 L396.1,220.0 L396.2,220.4 L396.4,220.4 L396.6,220.9 L396.7,220.3 L396.9,219.5 L397.0,217.6 L397.2,217.4 L397.3,217.1 L397.5,217.0 L397.6,215.7 L397.8,215.4 L397.9,214.9 L398.1,214.8 L398.2,214.7 L398.4,213.9 L398.5,212.7 L398.7,213.7 L398.8,214.0 L399.0,212.7 L399.1,212.7 L399.3,212.0 L399.4,211.6 L399.6,211.1 L399.7,209.8 L399.9,209.9 L400.0,209.4 L400.1,208.4 L400.3,209.6 L400.4,209.8 L400.5,209.4 L400.6,209.0 L400.8,207.8 L400.9,206.3 L401.0,205.3 L401.1,204.5 L401.3,204.6 L401.4,204.2 L401.5,204.3 L401.6,202.1 L401.8,204.1 L401.9,204.5 L402.0,202.7 L402.1,202.3 L402.3,201.7 L402.4,200.8 L402.7,201.1 L402.9,201.4 L403.2,201.3 L403.5,202.2 L403.8,202.7 L404.0,203.3 L404.3,203.3 L404.8,203.5 L405.2,203.9 L405.7,204.5 L406.1,203.7 L406.6,204.5 L407.0,205.6 L407.3,205.9 L407.7,205.6 L408.0,205.6 L408.4,206.2 L408.5,207.2 L408.6,208.5 L408.6,208.0 L408.7,207.9 L408.8,208.8 L408.9,209.3 L409.0,209.1 L409.1,209.4 L409.1,210.3 L409.2,211.4 L409.3,210.8 L409.4,211.7 L409.5,211.6 L409.6,210.3 L409.7,210.4 L409.8,210.4 L409.9,209.7 L410.0,208.6 L410.1,208.6 L410.2,208.1 L410.3,208.1 L410.4,207.0 L410.5,207.7 L410.6,205.7 L410.7,205.7 L410.8,205.6 L410.9,205.9 L411.0,204.6 L411.1,204.7 L411.2,203.7 L411.3,203.6 L411.4,204.4 L411.6,202.8 L411.7,202.6 L411.9,201.3 L412.0,201.8 L412.2,201.9 L412.3,200.9 L412.5,199.4 L412.6,199.7 L412.8,200.0 L412.9,199.8 L413.1,199.3 L413.2,197.6 L413.3,196.6 L413.4,197.7 L413.5,195.9 L413.6,196.7 L413.7,197.2 L413.8,196.3 L413.9,195.9 L414.0,194.5 L414.2,193.1 L414.3,193.1 L414.4,192.7 L414.5,192.4 L414.6,192.5 L414.7,191.7 L414.8,191.3 L414.9,191.1 L415.0,190.3 L415.2,191.2 L415.5,190.3 L415.7,189.5 L416.0,188.7 L416.2,187.9 L416.5,188.7 L416.7,187.9 L417.0,186.6 L417.2,186.2 L417.5,186.1 L417.7,185.9 L417.8,187.0 L418.0,186.3 L418.1,187.4 L418.3,187.9 L418.4,187.4 L418.6,188.4 L418.7,188.9 L418.9,189.8 L419.0,189.7 L419.2,190.5 L419.3,190.5 L419.4,190.1 L419.5,191.9 L419.5,193.0 L419.6,192.9 L419.7,192.8 L419.8,194.2 L419.8,192.8 L419.9,193.5 L420.0,195.1 L420.1,195.9 L420.1,195.3 L420.2,194.8 L420.3,196.9 L420.5,196.6 L420.6,195.4 L420.8,195.3 L421.0,195.6 L421.2,193.0 L421.3,194.4 L421.5,194.3 L421.7,192.1 L421.9,193.0 L422.0,191.2 L422.2,192.1 L422.3,192.0 L422.4,192.8 L422.6,190.9 L422.7,190.3 L422.8,190.5 L422.9,189.2 L423.0,188.4 L423.1,188.0 L423.3,187.8 L423.4,186.8 L423.5,187.2 L423.6,187.1 L423.7,186.5 L423.8,187.1 L424.0,185.6 L424.1,185.9 L424.2,184.5 L424.4,184.6 L424.5,182.4 L424.7,182.8 L424.8,182.4 L425.0,181.8 L425.1,181.1 L425.3,180.8 L425.4,180.1 L425.6,178.6 L425.7,178.8 L425.9,179.2 L426.2,179.1 L426.6,179.1 L426.9,180.0 L427.3,181.2 L427.6,181.1 L427.7,180.3 L427.9,181.0 L428.0,180.7 L428.2,180.3 L428.3,180.0 L428.5,178.5 L428.6,177.9 L428.8,178.2 L428.9,176.9 L429.1,176.4 L429.2,176.2 L429.4,176.9 L429.6,176.8 L429.8,178.0 L430.0,177.9 L430.3,178.7 L430.5,179.5 L430.7,179.8 L430.9,179.6 L431.0,178.4 L431.1,177.4 L431.2,177.3 L431.3,177.7 L431.4,178.3 L431.5,176.3 L431.6,176.4 L431.7,175.3 L431.8,174.7 L431.9,174.5 L432.0,174.9 L432.1,174.4 L432.2,174.6 L432.3,172.9 L432.4,173.3 L432.5,173.2 L432.6,172.0 L432.7,171.9 L432.8,170.7 L432.9,169.7 L432.9,169.5 L433.0,168.9 L433.1,170.9 L433.2,169.0 L433.3,169.5 L433.4,168.3 L433.5,167.7 L433.5,167.5 L433.6,166.1 L433.7,166.5 L433.8,165.9 L433.9,164.1 L434.0,164.6 L434.0,164.5 L434.1,164.1 L434.2,164.4 L434.3,162.7 L434.3,162.7 L434.4,162.5 L434.4,161.0 L434.5,161.6 L434.5,159.7 L434.5,158.8 L434.6,159.5 L434.6,158.3 L434.7,158.3 L434.7,156.9 L434.7,157.4 L434.8,156.4 L434.8,156.8 L434.9,155.3 L434.9,155.9 L434.9,155.3 L435.0,155.0 L435.0,154.5 L435.0,154.2 L435.1,152.8 L435.1,151.1 L435.2,152.1 L435.2,151.4 L435.2,151.3 L435.3,151.5 L435.3,149.6 L435.4,149.5 L435.4,149.9 L435.6,148.7 L435.7,149.1 L435.9,148.7 L436.0,147.8 L436.2,147.1 L436.3,147.8 L436.5,146.7 L436.6,147.0 L436.8,146.7 L436.9,144.6 L437.1,145.0 L437.2,145.5 L437.2,146.4 L437.3,147.4 L437.4,148.0 L437.4,148.7 L437.5,148.3 L437.6,148.5 L437.6,149.6 L437.7,149.4 L437.8,150.7 L437.8,149.6 L437.9,151.1 L438.0,151.3 L438.0,150.5 L438.1,152.5 L438.2,153.1 L438.2,153.4 L438.3,153.0 L438.4,153.6 L438.4,155.5 L438.5,155.0 L438.7,152.1 L438.9,152.7 L439.1,152.3 L439.2,152.6 L439.4,152.3 L439.6,151.5 L439.8,151.5 L440.0,151.8 L440.2,150.1 L440.4,151.6 L440.6,150.1 L440.8,148.9 L441.0,149.4 L441.1,150.2 L441.1,149.6 L441.2,151.0 L441.2,149.9 L441.3,150.5 L441.4,152.4 L441.4,152.4 L441.5,151.9 L441.6,153.4 L441.6,154.4 L441.7,154.4 L441.7,153.5 L441.8,154.9 L441.9,155.6 L442.1,156.6 L442.2,158.0 L442.3,157.3 L442.5,157.2 L442.6,157.7 L442.7,159.1 L442.8,158.4 L443.0,160.0 L443.1,158.0 L443.2,160.1 L443.4,160.1 L443.5,161.0 L443.8,162.0 L444.1,161.2 L444.4,162.0 L444.6,162.7 L444.9,163.5 L445.2,163.4 L445.2,163.1 L445.3,162.7 L445.3,166.0 L445.4,165.6 L445.4,165.7 L445.5,165.1 L445.6,166.9 L445.6,166.8 L445.6,168.5 L445.7,168.9 L445.8,168.8 L445.8,169.5 L445.9,168.8 L445.9,169.4 L445.9,169.7 L446.0,169.6 L446.1,170.8 L446.1,171.4 L446.1,173.0 L446.2,170.5 L446.2,171.8 L446.3,172.3 L446.4,173.2 L446.4,174.4 L446.4,175.1 L446.5,175.2 L446.6,174.5 L446.6,174.5 L446.7,174.2 L446.7,172.2 L446.8,172.3 L446.8,171.3 L446.9,170.8 L446.9,171.2 L447.0,171.0 L447.0,170.7 L447.1,169.6 L447.2,169.4 L447.2,168.5 L447.3,168.8 L447.3,168.9 L447.4,169.3 L447.4,168.8 L447.5,166.9 L447.5,166.2 L447.6,165.3 L447.6,165.6 L447.7,165.6 L447.9,165.7 L448.1,163.1 L448.2,162.5 L448.4,162.0 L448.6,162.8 L448.8,162.4 L448.9,162.1 L449.1,162.8 L449.3,161.0 L449.9,160.4 L450.4,162.2 L451.0,161.2 L451.1,161.1 L451.3,160.4 L451.4,160.8 L451.5,160.5 L451.7,162.5 L451.8,163.5 L451.9,164.8 L452.0,164.7 L452.2,164.6 L452.3,164.9 L452.4,167.1 L452.6,165.6 L452.7,166.8 L452.9,167.3 L453.2,168.1 L453.4,168.0 L453.7,168.8 L453.9,169.6 L454.2,169.5 L454.4,169.5 L454.7,170.0 L454.9,169.8 L455.2,170.9 L455.4,171.1 L455.5,171.9 L455.7,173.2 L455.9,173.9 L456.0,173.2 L456.2,174.0 L456.4,174.3 L456.5,175.1 L456.7,175.1 L456.9,175.5 L457.0,175.4 L457.2,175.9 L457.3,176.0 L457.5,176.2 L457.6,175.6 L457.7,174.9 L457.9,174.2 L458.0,173.2 L458.1,171.6 L458.2,172.5 L458.4,172.2 L458.5,171.2 L458.6,170.3 L458.8,171.3 L458.9,169.9 L459.1,170.6 L459.2,170.1 L459.4,170.9 L459.6,168.7 L459.8,168.1 L459.9,167.3 L460.1,167.2 L460.3,166.7 L460.4,165.8 L460.6,166.2 L461.1,165.4 L461.7,165.0 L462.2,165.3 L462.4,165.3 L462.6,165.6 L462.9,166.6 L463.1,166.7 L463.3,166.4 L463.5,167.3 L463.7,167.8 L464.0,169.6 L464.2,168.6 L464.4,169.6 L464.6,169.5 L464.9,169.9 L465.1,170.3 L465.4,171.2 L465.6,172.1 L465.9,173.4 L466.1,172.4 L466.4,173.7 L466.6,173.5 L467.0,174.3 L467.5,173.3 L467.9,174.3 L468.3,173.9 L468.6,174.6 L469.0,174.5 L469.3,175.4 L469.6,176.3 L470.0,176.9 L470.3,176.2 L470.7,177.2 L471.0,178.1 L471.4,177.0 L471.7,178.5 L472.1,177.3 L472.4,178.4 L472.8,178.7 L473.2,179.4 L473.5,178.5 L473.9,177.4 L474.2,176.6 L474.6,175.7 L474.9,176.6 L475.3,176.1 L475.5,175.1 L475.6,175.4 L475.8,174.3 L475.9,173.8 L476.1,173.3 L476.2,174.4 L476.4,174.3 L476.5,172.8 L476.7,171.0 L476.8,171.4 L477.0,171.1 L477.1,170.9 L477.3,170.3 L477.5,170.6 L477.8,171.7 L478.0,172.3 L478.2,172.3 L478.5,172.1 L478.7,172.6 L478.8,173.5 L478.9,173.0 L479.1,173.7 L479.2,173.9 L479.3,173.8 L479.4,175.4 L479.6,175.9 L479.7,176.3 L479.8,177.4 L479.9,176.4 L480.1,177.4 L480.2,178.2 L480.3,178.8 L480.6,177.7 L480.9,178.2 L481.1,177.7 L481.4,178.1 L481.7,177.9 L482.0,177.1 L482.2,177.7 L482.5,176.2 L482.8,175.2 L483.2,174.7 L483.6,174.0 L484.1,174.3 L484.5,174.0 L484.7,174.3 L484.9,175.3 L485.1,176.4 L485.4,176.1 L485.6,177.4 L485.8,176.8 L486.0,177.2 L486.2,177.3 L486.6,176.4 L487.0,176.3 L487.4,177.6 L487.9,177.2 L488.3,175.8 L488.7,176.2 L489.2,176.7 L489.7,176.4 L490.2,176.6 L490.7,176.5 L491.2,176.8 L491.5,175.2 L491.9,175.7 L492.2,176.6 L492.6,176.8 L492.9,175.3 L493.1,175.2 L493.3,175.7 L493.4,177.0 L493.6,177.3 L493.8,177.1 L494.0,177.9 L494.1,178.1 L494.3,178.9 L494.5,178.8 L494.7,178.4 L494.9,179.5 L495.0,180.7 L495.2,180.1 L495.4,181.0 L495.6,182.0 L495.8,181.9 L495.9,181.9 L496.1,184.0 L496.3,184.2 L496.5,184.7 L496.6,183.8 L496.8,185.5 L497.0,184.1 L497.2,184.7 L497.4,186.0 L497.5,187.2 L497.7,186.3 L497.9,186.8 L498.1,187.4 L498.2,186.6 L498.4,188.3 L498.6,189.2 L498.7,189.1 L498.9,190.0 L499.1,190.8 L499.2,191.0 L499.4,191.5 L499.6,192.7 L499.7,192.0 L499.9,192.5 L500.1,192.5 L500.2,193.8 L500.4,193.7 L500.7,194.4 L501.0,194.6 L501.2,194.9 L501.5,196.4 L501.8,195.9 L502.1,197.0 L502.3,197.2 L502.6,197.9 L502.9,197.1 L503.2,197.3 L503.5,196.9 L503.8,195.6 L504.0,195.5 L504.3,194.9 L504.6,194.5 L505.0,195.1 L505.4,193.7 L505.9,192.4 L506.3,191.8 L506.7,192.2 L507.1,192.6 L507.5,192.8 L507.9,193.7 L508.4,194.9 L508.8,194.6 L509.2,194.8 L509.6,194.4 L510.0,194.9 L510.5,195.8 L510.9,196.2 L511.3,194.2 L511.8,195.5 L512.2,195.7 L512.6,195.9 L512.9,193.9 L513.3,193.8 L513.6,194.1 L514.0,193.9 L514.3,192.7 L514.7,192.6 L515.0,192.8 L515.3,191.4 L515.7,192.5 L516.0,191.7 L516.3,191.2 L516.6,190.6 L517.0,191.1 L517.3,192.3 L517.7,191.5 L518.0,193.1 L518.3,191.9 L518.7,191.1 L519.0,191.5 L519.4,191.7 L519.7,191.7 L520.0,190.8 L520.4,190.3 L520.7,189.9 L521.1,189.4 L521.4,188.9 L521.6,189.0 L521.8,188.7 L521.9,188.3 L522.1,187.3 L522.3,187.2 L522.5,186.7 L522.6,186.2 L522.8,186.5 L523.0,185.0 L523.4,184.9 L523.9,184.0 L524.3,184.0 L524.7,185.0 L525.2,183.4 L525.6,183.5 L526.0,182.8 L526.4,183.5 L526.9,182.3 L527.3,181.2 L527.7,182.1 L528.1,181.8 L528.2,181.1 L528.4,181.6 L528.5,180.2 L528.7,179.7 L528.8,179.6 L529.0,179.4 L529.1,178.5 L529.3,178.9 L529.4,179.5 L529.6,177.7 L529.7,177.3 L529.9,175.5 L530.1,176.7 L530.3,175.6 L530.5,175.3 L530.8,174.6 L531.0,173.9 L531.2,173.0 L531.4,173.4 L531.8,174.0 L532.2,174.0 L532.6,172.9 L533.1,172.2 L533.5,171.6 L533.9,171.6 L534.1,172.3 L534.3,171.8 L534.5,171.0 L534.7,170.0 L534.9,169.0 L535.1,170.0 L535.3,169.7 L535.5,168.2 L535.7,168.7 L535.9,167.5 L536.0,167.5 L536.1,166.2 L536.2,165.9 L536.3,166.1 L536.4,165.8 L536.5,165.8 L536.7,164.2 L536.8,165.0 L536.9,164.9 L537.0,163.6 L537.1,163.2 L537.2,161.9 L537.3,161.7 L537.4,160.4 L537.5,160.6 L537.7,160.5 L537.8,160.9 L537.9,160.5 L538.0,160.0 L538.1,158.7 L538.2,158.0 L538.4,157.4 L538.5,157.3 L538.6,156.4 L538.8,157.3 L538.9,156.6 L539.1,157.4 L539.3,158.2 L539.5,158.5 L539.6,160.3 L539.8,160.0 L540.0,161.3 L540.1,161.8 L540.3,161.0 L540.6,160.9 L540.9,161.1 L541.2,159.8 L541.5,159.3 L541.7,159.4 L541.9,160.2 L542.0,160.4 L542.2,161.1 L542.4,162.3 L542.6,163.3 L542.7,163.1 L542.9,163.3 L543.1,163.7 L543.5,163.7 L544.0,163.2 L544.4,164.6 L544.8,164.2 L544.9,164.3 L545.1,162.9 L545.2,164.0 L545.4,162.2 L545.5,162.5 L545.7,162.8 L545.8,160.9 L546.0,161.6 L546.1,160.0 L546.3,159.4 L546.5,160.3 L546.7,161.1 L546.9,161.1 L547.1,159.8 L547.2,161.2 L547.4,161.8 L547.6,162.3 L547.8,162.8 L548.0,163.1 L548.5,162.9 L549.0,164.8 L549.5,165.5 L550.0,164.4 L550.5,163.9 L551.0,164.4 L551.5,165.1 L552.0,165.1 L552.5,164.1 L552.8,164.6 L553.2,165.0 L553.5,166.3 L553.9,166.8 L554.2,166.2 L554.4,167.5 L554.6,167.0 L554.9,168.3 L555.1,167.8 L555.3,168.4 L555.5,169.2 L555.7,168.6 L556.0,168.8 L556.2,168.4 L556.4,170.1 L556.8,170.4 L557.2,170.6 L557.6,171.5 L558.0,170.2 L558.4,171.8 L558.6,171.3 L558.7,170.8 L558.9,171.0 L559.1,171.4 L559.2,169.8 L559.4,168.6 L559.6,168.1 L559.7,168.2 L559.9,168.2 L560.1,166.9 L560.2,167.5 L560.4,166.3 L560.8,167.0 L561.3,167.2 L561.7,167.4 L562.2,168.7 L562.6,167.3 L562.8,167.6 L563.1,168.4 L563.3,169.2 L563.6,168.2 L563.8,169.3 L564.1,169.2 L564.3,170.4 L564.6,171.6 L564.8,171.1 L565.1,171.5 L565.4,172.0 L565.7,170.3 L565.9,172.5 L566.2,173.4 L566.5,173.7 L566.8,173.8 L567.3,173.4 L567.7,173.7 L568.2,174.8 L568.7,174.4 L569.2,175.2 L569.6,172.9 L570.1,174.2 L570.5,174.1 L570.9,174.0 L571.4,172.7 L571.8,172.8 L572.2,173.9 L572.6,173.0 L572.8,171.9 L573.1,171.3 L573.3,171.2 L573.6,171.7 L573.8,171.5 L574.1,169.5 L574.3,170.8 L574.6,169.6 L574.8,169.3 L575.2,170.0 L575.6,169.0 L576.0,167.6 L576.4,167.4 L576.8,167.5 L577.1,166.4 L577.5,166.5 L577.8,167.1 L578.2,166.7 L578.5,165.8 L578.9,167.3 L579.2,165.2 L579.6,165.0 L580.0,164.7 L580.3,164.9 L580.7,164.0 L581.0,164.6 L581.4,166.2 L581.7,165.6 L582.0,164.8 L582.4,165.7 L582.7,165.8 L582.9,166.0 L583.1,166.8 L583.3,167.5 L583.5,167.6 L583.8,168.7 L584.0,168.6 L584.2,168.1 L584.4,169.5 L584.5,169.7 L584.5,171.1 L584.6,170.6 L584.6,171.5 L584.7,172.0 L584.8,170.4 L584.8,170.9 L584.9,171.7 L585.0,173.9 L585.0,172.8 L585.1,174.5 L585.1,175.6 L585.2,175.4 L585.2,176.3 L585.2,176.0 L585.3,176.5 L585.3,177.2 L585.3,177.8 L585.3,178.5 L585.4,178.5 L585.4,178.4 L585.4,178.8 L585.4,179.9 L585.5,179.2 L585.5,179.5 L585.5,180.5 L585.5,181.0 L585.5,181.7 L585.6,180.6 L585.6,182.1 L585.6,183.0 L585.6,184.3 L585.7,183.2 L585.7,184.2 L585.7,185.3 L585.8,185.2 L585.9,185.3 L586.0,185.0 L586.1,183.1 L586.2,183.3 L586.3,182.5 L586.3,181.5 L586.4,182.5 L586.5,181.1 L586.6,180.1 L586.7,179.8 L586.8,179.1 L586.9,179.5 L587.2,179.5 L587.6,179.8 L587.9,179.0 L588.3,177.9 L588.6,177.9 L588.8,177.1 L589.0,176.5 L589.2,176.2 L589.4,176.0 L589.6,176.4 L589.8,175.1 L590.0,175.0 L590.2,174.4 L590.7,173.7 L591.2,173.6 L591.7,174.2 L592.2,174.9 L592.7,175.0 L592.8,174.9 L593.0,174.2 L593.1,173.3 L593.3,173.3 L593.4,172.0 L593.5,171.0 L593.7,171.1 L593.8,170.1 L594.0,170.0 L594.1,169.5 L594.3,169.2 L594.4,169.3 L594.6,168.3 L594.7,168.0 L594.9,166.8 L595.0,167.3 L595.2,166.5 L595.3,166.8 L595.5,164.5 L595.6,164.7 L595.8,165.4 L596.2,164.0 L596.6,165.2 L597.0,166.1 L597.4,166.6 L597.8,166.6 L598.2,166.4 L598.6,166.4 L599.0,165.4 L599.5,166.0 L599.9,165.5 L600.3,165.2 L600.8,165.1 L601.3,165.8 L601.8,165.8 L602.3,166.7 L602.8,166.2 L603.3,166.0 L603.7,166.1 L604.2,167.1 L604.7,166.6 L605.2,167.1 L605.6,167.5 L606.1,167.2 L606.6,165.5 L607.1,166.5 L607.5,166.8 L608.0,166.8 L608.5,166.1 L609.0,166.7 L609.2,166.2 L609.4,165.3 L609.6,164.6 L609.8,164.8 L610.0,163.6 L610.2,163.0 L610.4,164.5 L610.6,164.3 L610.8,163.8 L611.0,163.6 L611.2,162.1 L611.6,160.7 L611.9,161.7 L612.3,162.0 L612.6,161.3 L613.0,159.3 L613.3,160.5 L613.7,160.1 L614.2,160.0 L614.7,160.2 L615.2,160.8 L615.7,160.5 L616.2,160.7 L616.4,161.3 L616.7,161.9 L616.9,162.0 L617.2,161.3 L617.4,161.6 L617.7,164.9 L617.9,163.7 L618.4,164.6 L618.9,164.6 L619.4,164.9 L619.9,164.2 L620.4,163.2 L620.9,163.0 L621.4,161.5 L621.9,162.0 L622.4,162.8 L622.9,161.8 L623.3,161.6 L623.6,162.1 L624.0,162.4 L624.3,160.8 L624.7,160.2 L625.0,159.0 L625.4,159.8 L625.6,159.7 L625.8,160.7 L626.0,158.6 L626.2,159.3 L626.3,158.6 L626.5,157.5 L626.7,158.6 L626.9,155.5 L627.1,156.2 L627.3,155.8 L627.5,156.9 L627.7,156.7 L627.9,156.7 L628.1,154.9 L628.2,154.6 L628.4,154.4 L628.6,153.5 L628.8,152.8 L629.0,151.9 L629.2,151.3 L629.4,150.1 L629.6,151.6 L629.8,150.2 L630.0,148.3 L630.2,149.0 L630.5,148.8 L630.7,148.5 L630.9,149.3 L631.1,148.0 L631.3,147.2 L631.5,146.6 L632.0,146.3 L632.5,145.8 L633.0,145.9 L633.5,148.3 L633.9,147.5 L634.4,146.7 L634.6,147.6 L634.8,146.9 L634.9,146.4 L635.1,145.9 L635.3,145.5 L635.5,144.9 L635.7,145.0 L635.9,144.4 L636.0,144.2 L636.2,142.6 L636.4,142.0 L636.5,141.1 L636.6,141.6 L636.7,141.4 L636.8,140.2 L636.9,140.2 L637.0,141.3 L637.1,140.4 L637.2,138.2 L637.4,137.9 L637.5,138.0 L637.6,137.3 L637.7,137.0 L637.8,137.2 L637.9,136.4 L638.0,134.8 L638.1,135.2 L638.2,134.5 L638.3,134.1 L638.4,133.3 L638.5,132.1 L638.6,131.5 L638.7,131.6 L638.8,130.9 L638.9,129.2 L639.0,131.0 L639.1,129.7 L639.2,129.3 L639.3,129.7 L639.3,127.6 L639.4,129.1 L639.5,127.9 L639.6,128.2 L639.7,127.2 L639.8,127.1 L639.9,126.6 L640.0,126.1 L640.1,124.4 L640.2,123.8 L640.3,124.2 L640.4,124.5 L640.8,124.6 L641.1,125.5 L641.4,125.8 L641.8,126.1 L641.9,127.3 L642.0,126.2 L642.1,127.3 L642.2,127.7 L642.3,128.0 L642.4,128.0 L642.5,128.4 L642.6,128.7 L642.7,129.0 L642.8,131.9 L642.9,132.6 L643.0,132.0 L643.1,132.1 L643.3,131.0 L643.4,128.9 L643.6,128.6 L643.7,129.5 L643.9,130.4 L644.0,129.4 L644.2,128.1 L644.3,127.8 L644.5,126.9 L644.6,126.0 L644.8,126.6 L644.9,125.9 L645.0,125.2 L645.1,124.6 L645.2,124.1 L645.3,124.4 L645.4,125.0 L645.5,123.8 L645.7,124.8 L645.8,122.2 L645.9,122.3 L646.0,121.1 L646.1,121.1 L646.2,120.9 L646.3,120.9 L646.4,120.4 L646.5,119.6 L646.7,118.3 L646.8,118.3 L646.9,118.4 L647.1,117.4 L647.2,117.9 L647.3,118.3 L647.4,116.0 L647.6,116.2 L647.7,116.4 L647.8,114.1 L648.0,114.5 L648.1,114.2 L648.2,113.7 L648.4,115.7 L648.5,116.0 L648.6,115.9 L648.8,116.8 L648.9,117.5 L649.0,118.1 L649.1,118.5 L649.3,118.8 L649.4,118.1 L649.5,118.7 L649.7,119.6 L649.8,119.5 L649.9,120.4 L650.0,119.2 L650.2,118.1 L650.3,116.8 L650.4,117.5 L650.5,117.4 L650.6,116.6 L650.7,116.1 L650.9,115.4 L651.0,114.9 L651.1,114.9 L651.2,114.2 L651.3,114.6 L651.4,113.9 L651.6,113.6 L651.7,113.3 L651.8,112.9 L652.0,113.8 L652.3,113.8 L652.5,113.9 L652.8,113.7 L653.0,114.2 L653.3,115.4 L653.5,115.8 L653.8,115.8 L654.1,114.5 L654.3,113.7 L654.6,114.4 L654.9,114.9 L655.2,114.3 L655.5,112.7 L655.7,112.6 L656.0,112.6 L656.4,111.7 L656.9,112.1 L657.3,111.7 L657.8,111.0 L658.2,111.1 L658.3,112.0 L658.5,112.6 L658.6,112.2 L658.8,112.3 L658.9,113.9 L659.1,114.6 L659.2,114.5 L659.3,116.0 L659.5,115.6 L659.6,115.2 L659.8,116.8 L659.9,116.8 L660.1,117.4 L660.2,117.6 L660.4,116.5 L660.6,115.7 L660.9,115.8 L661.1,116.7 L661.3,115.1 L661.5,115.8 L661.8,115.1 L662.0,113.6 L662.2,113.8 L662.3,114.6 L662.4,114.2 L662.5,113.5 L662.6,115.3 L662.7,115.2 L662.8,116.5 L662.9,115.6 L662.9,116.8 L663.0,117.1 L663.1,117.0 L663.2,118.1 L663.3,119.1 L663.4,119.2 L663.5,119.8 L663.6,120.4 L663.7,119.7 L663.8,121.4 L663.9,122.2 L664.0,123.6 L664.1,123.8 L664.2,123.8 L664.2,124.1 L664.3,124.3 L664.4,123.7 L664.5,125.7 L664.6,126.1 L664.7,125.9 L664.8,125.6 L664.9,127.0 L665.3,127.7 L665.7,126.8 L666.0,127.9 L666.4,129.3 L666.8,128.7 L667.2,128.6 L667.4,128.0 L667.6,127.2 L667.8,127.8 L668.0,129.1 L668.3,127.3 L668.5,126.2 L668.7,126.2 L668.9,125.2 L669.1,126.2 L669.2,126.8 L669.4,126.1 L669.5,126.1 L669.7,127.1 L669.8,128.4 L670.0,128.7 L670.1,129.8 L670.3,128.7 L670.4,129.9 L670.6,130.1 L671.0,130.0 L671.4,130.0 L671.9,129.1 L672.3,129.1 L672.7,129.0 L673.0,129.5 L673.4,129.4 L673.7,129.8 L674.0,130.7 L674.3,130.7 L674.6,132.1 L675.0,131.6 L675.3,132.4 L675.4,132.1 L675.5,130.7 L675.6,130.5 L675.8,129.7 L675.9,129.5 L676.0,129.2 L676.1,130.2 L676.2,128.8 L676.3,129.3 L676.4,128.5 L676.6,126.7 L676.7,125.1 L676.8,126.3 L676.9,125.6 L677.1,125.6 L677.3,125.9 L677.5,125.2 L677.7,124.4 L677.9,123.7 L678.1,123.6 L678.3,122.9 L678.5,122.2 L678.7,121.8 L678.9,122.0 L679.2,121.3 L679.5,121.3 L679.8,120.0 L680.2,119.6 L680.5,118.8 L680.8,119.1 L681.1,119.4 L681.5,119.4 L681.9,118.6 L682.3,118.9 L682.8,118.2 L683.2,118.3 L683.6,118.1 L684.0,117.7 L684.3,116.5 L684.5,117.0 L684.8,118.9 L685.1,119.2 L685.3,121.2 L685.6,120.2 L685.9,120.3 L686.1,121.9 L686.4,122.1 L686.7,123.3 L687.0,123.1 L687.2,122.8 L687.5,123.6 L687.8,123.4 L687.9,122.6 L688.0,122.1 L688.1,121.8 L688.3,122.1 L688.4,121.1 L688.5,121.0 L688.6,120.1 L688.7,120.4 L688.8,117.8 L688.9,118.3 L689.0,118.4 L689.2,117.4 L689.3,118.1 L689.4,117.5 L689.5,117.1 L689.7,117.3 L689.8,116.7 L690.0,115.6 L690.2,114.3 L690.3,114.1 L690.5,113.6 L690.7,113.6 L690.9,112.9 L691.0,114.7 L691.2,111.9 L691.4,112.5 L691.5,111.3 L691.7,110.8 L692.2,111.7 L692.7,111.5 L693.2,110.8 L693.7,111.8 L694.1,111.4 L694.4,109.8 L694.8,110.5 L695.1,109.8 L695.5,109.5 L695.8,110.0 L696.2,109.8 L696.4,110.0 L696.7,111.9 L696.9,111.7 L697.2,111.2 L697.4,111.9 L697.7,112.1 L697.9,111.1 L698.2,111.4 L698.4,113.0 L698.6,114.7 L698.9,114.4 L699.1,114.6 L699.4,114.7 L699.6,116.0 L699.9,116.1 L700.1,117.6 L700.4,117.1 L700.7,118.6 L701.0,117.9 L701.3,118.3 L701.5,118.1 L701.8,118.4 L702.1,117.7 L702.4,119.1 L702.8,118.2 L703.3,118.2 L703.7,119.4 L704.2,119.0 L704.6,118.8 L704.9,119.8 L705.2,120.2 L705.4,120.6 L705.7,119.9 L706.0,120.9 L706.3,120.7 L706.5,120.7 L706.8,122.1 L707.1,122.3 L707.3,122.2 L707.5,123.8 L707.6,124.0 L707.8,123.3 L708.0,124.0 L708.2,124.6 L708.4,125.1 L708.5,125.1 L708.7,124.7 L708.9,125.7 L709.1,126.9 L709.2,127.6 L709.4,128.0 L709.6,128.0 L709.8,127.0 L710.0,126.7 L710.1,126.6 L710.3,126.7 L710.5,125.9 L710.7,125.6 L710.9,125.0 L711.1,125.8 L711.2,122.9 L711.4,123.1 L711.6,124.6 L711.8,122.8 L712.3,121.4 L712.8,121.9 L713.3,120.9 L713.8,121.6 L714.0,122.1 L714.1,123.7 L714.3,123.8 L714.5,124.2 L714.6,124.8 L714.8,124.8 L715.0,124.3 L715.2,124.9 L715.3,125.7 L715.5,126.0 L715.8,125.1 L716.0,124.7 L716.2,123.6 L716.5,123.2 L716.8,123.4 L717.0,123.1 L717.2,122.9 L717.5,122.9 L717.8,123.6 L718.0,123.6 L718.3,123.2 L718.6,123.3 L718.8,124.7 L719.1,125.0 L719.3,124.8 L719.5,123.7 L719.8,123.8 L720.0,123.4 L720.2,123.7 L720.5,122.6 L720.7,122.0 L720.9,121.9 L721.1,121.4 L721.3,122.1 L721.6,120.8 L721.8,120.0 L722.0,120.2 L722.3,121.2 L722.5,121.6 L722.8,122.3 L723.0,121.5 L723.3,124.1 L723.5,124.8 L723.8,123.7 L724.2,123.2 L724.6,124.0 L725.0,124.6 L725.5,123.2 L725.9,124.4 L726.3,124.9 L726.7,125.3 L727.1,126.5 L727.6,126.8 L728.0,125.8 L728.1,127.1 L728.2,127.7 L728.2,127.4 L728.3,128.1 L728.4,129.4 L728.5,128.9 L728.6,129.2 L728.6,129.2 L728.7,130.7 L728.8,129.2 L728.9,131.4 L729.0,130.9 L729.0,132.3 L729.1,131.3 L729.2,132.4 L729.6,132.1 L730.1,133.3 L730.5,132.2 L731.0,133.4 L731.4,133.4 L731.7,133.8 L732.0,132.8 L732.3,132.8 L732.6,132.1 L732.9,132.9 L733.2,131.5 L733.5,131.0 L733.8,132.8 L734.1,132.4 L734.4,132.9 L734.7,132.6 L734.8,133.2 L734.8,132.1 L734.9,133.6 L734.9,134.0 L735.0,133.8 L735.0,134.1 L735.1,136.3 L735.1,136.8 L735.2,136.0 L735.2,138.3 L735.2,137.7 L735.3,138.0 L735.4,138.8 L735.4,138.5 L735.5,138.4 L735.5,139.2 L735.6,141.1 L735.6,141.3 L735.7,140.8 L735.8,142.6 L735.9,142.7 L736.0,143.4 L736.0,143.6 L736.1,144.2 L736.2,143.8 L736.3,144.0 L736.4,145.1 L736.8,144.6 L737.3,145.2 L737.7,144.0 L738.2,145.4 L738.6,144.4 L738.9,143.6 L739.3,144.0 L739.6,143.7 L739.9,142.9 L740.2,141.9 L740.6,141.3 L740.9,141.5 L741.3,141.9 L741.8,142.2 L742.2,142.7 L742.6,141.8 L743.0,141.2 L743.5,141.1 L743.9,140.5 L744.4,140.2 L744.9,140.2 L745.4,141.3 L745.9,139.0 L746.4,139.1 L746.6,138.8 L746.8,140.4 L747.1,141.5 L747.3,141.1 L747.5,142.0 L747.7,142.1 L747.9,142.6 L748.2,142.5 L748.4,143.1 L748.6,143.6 L749.0,144.7 L749.4,146.0 L749.8,144.0 L750.2,145.1 L750.6,145.3 L750.8,145.5 L751.1,145.4 L751.3,144.9 L751.5,144.4 L751.8,142.8 L752.0,142.3 L752.3,143.8 L752.6,144.5 L752.9,143.5 L753.1,145.0 L753.4,145.3 L753.7,143.5 L754.0,145.3 L754.5,144.6 L755.0,145.7 L755.5,144.8 L756.0,144.4 L756.5,144.5 L757.0,144.2 L757.5,145.2 L758.0,144.3 L758.5,143.1 L759.0,144.7 L759.5,145.8 L760.0,145.0 L760.5,143.8 L761.0,143.4 L761.1,142.7 L761.2,144.4 L761.3,145.8 L761.4,145.0 L761.5,145.8 L761.6,146.1 L761.7,146.6 L761.7,147.5 L761.8,149.2 L761.9,148.3 L762.0,149.3 L762.1,150.1 L762.2,149.7 L762.3,150.0 L762.4,150.2 L763.0,151.0 L763.5,150.4 L764.0,150.2 L764.6,150.8 L765.1,150.0 L765.6,149.5 L766.1,149.7 L766.6,150.8 L767.1,149.8 L767.6,150.1 L768.1,148.8 L768.6,147.9 L769.1,150.1 L769.6,149.3 L770.1,148.3 L770.6,149.1 L771.1,149.9 L771.6,148.6 L772.1,149.5 L772.3,149.2 L772.5,148.3 L772.7,148.8 L772.9,148.9 L773.0,148.3 L773.2,147.2 L773.4,146.8 L773.6,146.0 L773.8,145.9 L774.0,145.7 L774.1,144.9 L774.3,145.2 L774.4,146.1 L774.6,144.0 L774.7,143.6 L774.9,143.4 L775.0,143.0 L775.2,141.9 L775.3,141.1 L775.5,141.1 L775.9,141.3 L776.3,141.0 L776.7,139.9 L777.1,140.3 L777.5,140.0 L777.9,140.1 L778.4,140.7 L778.8,142.1 L779.3,140.0 L779.7,140.9 L780.0,139.7 L780.2,138.9 L780.5,139.1 L780.8,139.4 L781.0,138.9 L781.3,138.2 L781.6,137.5 L782.0,138.3 L782.3,139.1 L782.7,139.1 L783.0,139.7 L783.1,141.3 L783.3,140.6 L783.5,141.2 L783.6,141.4 L783.8,141.7 L783.9,142.5 L784.1,142.8 L784.2,143.6 L784.3,142.4 L784.4,141.4 L784.4,143.0 L784.5,142.0 L784.6,141.9 L784.7,141.8 L784.7,141.1 L784.8,140.2 L784.9,138.5 L785.0,137.6 L785.0,138.7 L785.1,138.7 L785.2,138.3 L785.3,136.3 L785.3,135.0 L785.4,135.0 L785.5,135.5 L785.9,135.4 L786.3,134.7 L786.8,136.1 L787.2,135.0 L787.6,134.5 L788.0,134.8 L788.4,134.8 L788.7,133.7 L789.1,134.3 L789.5,135.1 L789.8,133.0 L790.2,133.0 L790.5,132.7 L790.9,132.3 L791.2,134.2 L791.6,135.1 L791.9,135.3 L792.2,135.2 L792.6,133.8" fill="none" stroke="#87979d" stroke-width="1.7" stroke-linejoin="round" stroke-linecap="round"/>
<path d="M68.5,173.9 L68.5,180.3 L74.2,182.3 L75.9,178.6 L77.3,174.4 L79.8,170.7 L81.4,174.5 L83.5,167.7 L85.1,162.7 L86.8,161.5 L88.8,162.7 L91.0,160.7 L92.7,163.5 L95.2,166.0 L98.2,166.5 L100.2,171.9 L101.0,174.4 L102.7,180.3 L103.9,193.7 L105.7,210.0 L107.4,230.0 L110.2,260.0 L113.1,290.0 L114.0,300.0 L115.8,329.3 L117.3,352.8 L118.4,373.8 L119.7,352.8 L121.5,329.3 L122.8,300.0 L123.8,283.7 L126.5,252.0 L128.6,221.0 L129.5,205.0 L130.4,193.7 L131.7,178.6 L132.4,173.9 L133.7,160.2 L134.5,153.1 L136.2,151.8 L137.6,153.5 L138.7,161.8 L140.4,166.5 L142.9,170.2 L146.3,174.4 L148.8,167.7 L151.3,161.8 L153.0,165.2 L155.5,159.3 L158.0,156.0 L160.5,154.3 L162.5,150.1 L164.7,153.1 L166.4,159.3 L168.9,164.3 L171.4,166.9 L173.9,171.9 L175.6,174.9 L177.3,181.9 L180.3,192.0 L182.3,188.6 L184.8,185.3 L188.1,189.5 L192.3,187.0 L195.0,183.9 L197.5,184.4 L200.0,186.1 L201.7,188.6 L203.4,184.4 L205.4,181.1 L207.6,183.3 L209.2,181.6 L211.8,183.3 L214.3,181.9 L216.8,180.3 L220.1,179.4 L222.1,181.1 L223.5,183.6 L225.5,180.3 L227.7,179.9 L230.2,178.6 L232.2,181.9 L234.4,186.1 L236.5,188.6 L238.9,192.0 L240.6,189.5 L242.7,187.8 L244.9,187.8 L246.9,190.6 L248.6,187.8 L251.1,181.1 L253.6,176.9 L255.0,173.9 L255.8,171.9 L257.3,173.9 L259.0,176.1 L260.7,176.1 L262.3,173.2 L264.0,174.9 L266.2,176.9 L268.7,179.4 L271.2,178.6 L273.4,178.9 L275.4,176.1 L277.9,175.2 L279.6,173.9 L282.1,171.9 L284.6,169.4 L287.1,170.2 L290.1,168.9 L292.5,170.5 L295.2,171.5 L298.0,170.2 L300.9,170.2 L303.0,168.2 L305.2,165.2 L307.6,164.3 L309.7,162.7 L312.3,161.5 L314.8,158.8 L316.4,159.8 L318.6,164.3 L320.3,169.4 L322.0,173.9 L325.0,177.7 L327.5,180.3 L330.0,187.8 L332.1,192.0 L334.2,187.8 L336.8,184.4 L339.3,181.6 L341.4,181.1 L342.6,187.0 L344.3,197.0 L346.5,210.0 L347.9,225.2 L350.8,250.0 L352.9,270.0 L354.8,304.3 L356.7,339.7 L358.1,364.1 L360.5,339.7 L363.8,304.3 L366.1,270.0 L368.4,250.0 L370.8,225.2 L371.6,210.0 L372.8,197.0 L373.6,185.3 L374.4,173.9 L376.1,170.2 L377.8,168.2 L380.0,166.5 L382.0,168.2 L384.0,169.4 L386.2,169.9 L388.7,168.5 L391.2,170.2 L392.9,173.9 L395.0,177.7 L396.7,180.3 L398.7,177.7 L401.2,176.9 L403.4,174.4 L405.4,176.1 L407.4,175.2 L409.6,171.9 L412.1,167.7 L414.1,169.4 L416.7,173.9 L418.7,177.7 L420.4,173.9 L422.5,171.0 L424.7,173.9 L427.6,175.2 L430.9,176.5 L432.3,173.9 L434.8,167.7 L436.8,169.4 L438.8,171.5 L441.0,169.4 L442.6,169.4 L444.3,171.9 L445.7,167.7 L447.2,161.8 L448.5,160.5 L450.5,160.5 L451.9,166.0 L454.4,170.2 L456.5,173.9 L458.9,176.1 L461.1,177.7 L462.7,182.8 L464.9,187.0 L466.9,185.3 L468.9,181.9 L471.1,179.4 L473.6,178.6 L476.1,179.4 L477.8,175.2 L479.5,172.7 L481.7,171.0 L483.7,172.7 L485.4,173.9 L487.9,174.9 L491.2,174.9 L493.7,176.9 L496.2,181.1 L498.8,187.0 L501.3,192.0 L503.8,195.4 L506.3,195.4 L508.0,192.9 L510.5,188.7 L512.5,184.5 L514.7,178.6 L516.0,173.9 L517.5,166.9 L519.2,161.0 L520.9,157.6 L523.0,161.8 L525.2,164.3 L527.2,164.8 L529.2,163.5 L530.9,167.7 L533.1,169.4 L535.3,171.0 L537.3,174.4 L539.3,170.2 L541.5,166.0 L544.0,166.0 L547.0,165.2 L549.2,169.4 L551.7,167.7 L553.7,166.0 L555.9,170.2 L558.4,173.2 L560.9,174.4 L563.1,180.3 L565.1,178.6 L567.6,180.3 L569.3,184.4 L571.0,186.6 L573.1,183.6 L575.2,181.1 L576.8,181.9 L578.5,176.1 L580.2,173.9 L582.7,173.9 L584.4,171.5 L586.0,170.2 L587.7,172.7 L589.4,174.9 L591.9,176.9 L594.4,177.7 L596.1,180.3 L597.8,188.6 L599.4,200.4 L601.1,210.0 L603.0,222.0 L605.7,237.6 L609.5,294.0 L611.4,331.6 L612.9,365.4 L615.1,331.6 L618.1,294.0 L624.5,237.6 L626.6,210.0 L627.4,200.4 L628.2,188.6 L629.3,176.9 L630.4,176.1 L632.1,178.9 L634.6,178.6 L636.3,181.1 L638.0,182.3 L639.6,178.6 L641.3,176.9 L643.5,173.9 L645.2,167.7 L647.2,167.7 L649.2,171.0 L651.4,171.5 L653.0,168.5 L654.7,166.9 L656.9,171.0 L658.9,173.9 L660.6,178.6 L662.3,180.3 L664.3,178.6 L666.4,179.4 L669.0,181.9 L670.6,187.8 L672.3,194.5 L673.6,199.0 L675.3,194.5 L677.0,191.1 L678.7,192.8 L679.8,195.7 L681.0,190.3 L682.4,181.9 L684.0,176.9 L685.9,173.9 L687.0,163.5 L688.7,150.1 L690.9,146.0 L693.1,148.8 L695.1,148.8 L696.8,149.8 L698.1,156.0 L699.8,161.0 L701.8,162.7 L703.5,166.9 L704.8,171.9 L705.5,176.1 L706.8,178.6 L709.3,178.6 L711.8,180.0 L713.5,177.8 L715.5,174.4 L718.2,177.8 L721.0,176.1 L723.2,175.3 L725.2,179.5 L727.2,176.1 L728.9,174.4 L731.1,176.9 L733.3,176.9 L734.9,174.4 L736.9,176.9 L738.6,178.6 L740.6,177.8 L742.8,179.5 L745.3,181.6 L747.3,178.6 L749.5,176.1 L751.7,176.1 L753.4,173.9 L755.4,171.1 L757.4,166.9 L759.6,164.4 L762.4,164.4 L764.6,166.9 L766.3,171.1 L768.8,172.8 L770.8,174.4 L772.5,177.8 L774.6,181.1 L777.2,180.6 L779.7,179.5 L781.3,175.3 L782.5,171.1 L784.2,169.9 L786.4,167.7 L788.0,165.5 L789.7,165.2 L791.4,167.7 L792.6,167.7 L792.6,173.9Z" fill="#b83cc5" stroke="#b83cc5" stroke-width="0.5" stroke-linejoin="round"/>
<line x1="793.1" x2="793.1" y1="77.6" y2="412.6" stroke="#6b6b6b" stroke-width="1.6"/>
<text x="58" y="97.3" font-family="Liberation Sans, sans-serif" font-size="8.8" fill="#6e6e6e" text-anchor="end">$100k</text>
<text x="58" y="112.1" font-family="Liberation Sans, sans-serif" font-size="8.8" fill="#6e6e6e" text-anchor="end">$60k</text>
<text x="58" y="144.1" font-family="Liberation Sans, sans-serif" font-size="8.8" fill="#6e6e6e" text-anchor="end">$20k</text>
<text x="58" y="170.8" font-family="Liberation Sans, sans-serif" font-size="8.8" fill="#6e6e6e" text-anchor="end">$8k</text>
<text x="58" y="190.9" font-family="Liberation Sans, sans-serif" font-size="8.8" fill="#6e6e6e" text-anchor="end">$4k</text>
<text x="58" y="231.3" font-family="Liberation Sans, sans-serif" font-size="8.8" fill="#6e6e6e" text-anchor="end">$1k</text>
<text x="58" y="246.1" font-family="Liberation Sans, sans-serif" font-size="8.8" fill="#6e6e6e" text-anchor="end">$600</text>
<text x="58" y="278.1" font-family="Liberation Sans, sans-serif" font-size="8.8" fill="#6e6e6e" text-anchor="end">$200</text>
<text x="58" y="303.8" font-family="Liberation Sans, sans-serif" font-size="8.8" fill="#6e6e6e" text-anchor="end">$80</text>
<text x="58" y="323.9" font-family="Liberation Sans, sans-serif" font-size="8.8" fill="#6e6e6e" text-anchor="end">$40</text>
<text x="58" y="365.3" font-family="Liberation Sans, sans-serif" font-size="8.8" fill="#6e6e6e" text-anchor="end">$10</text>
<text x="58" y="380.1" font-family="Liberation Sans, sans-serif" font-size="8.8" fill="#6e6e6e" text-anchor="end">$6</text>
<text x="58" y="412.1" font-family="Liberation Sans, sans-serif" font-size="8.8" fill="#6e6e6e" text-anchor="end">$2</text>
<text x="803.5" y="124.9" font-family="Liberation Sans, sans-serif" font-size="8.8" fill="#6e6e6e">0.25</text>
<text x="803.5" y="220.6" font-family="Liberation Sans, sans-serif" font-size="8.8" fill="#6e6e6e">-0.25</text>
<text x="803.5" y="316.3" font-family="Liberation Sans, sans-serif" font-size="8.8" fill="#6e6e6e">-0.75</text>
<text x="803.5" y="412.0" font-family="Liberation Sans, sans-serif" font-size="8.8" fill="#6e6e6e">-1.25</text>
<text x="108.5" y="427" font-family="Liberation Sans, sans-serif" font-size="9" fill="#6e6e6e" text-anchor="middle">2013</text>
<text x="174.9" y="427" font-family="Liberation Sans, sans-serif" font-size="9" fill="#6e6e6e" text-anchor="middle">2014</text>
<text x="241.3" y="427" font-family="Liberation Sans, sans-serif" font-size="9" fill="#6e6e6e" text-anchor="middle">2015</text>
<text x="307.6" y="427" font-family="Liberation Sans, sans-serif" font-size="9" fill="#6e6e6e" text-anchor="middle">2016</text>
<text x="374.0" y="427" font-family="Liberation Sans, sans-serif" font-size="9" fill="#6e6e6e" text-anchor="middle">2017</text>
<text x="440.4" y="427" font-family="Liberation Sans, sans-serif" font-size="9" fill="#6e6e6e" text-anchor="middle">2018</text>
<text x="506.8" y="427" font-family="Liberation Sans, sans-serif" font-size="9" fill="#6e6e6e" text-anchor="middle">2019</text>
<text x="573.2" y="427" font-family="Liberation Sans, sans-serif" font-size="9" fill="#6e6e6e" text-anchor="middle">2020</text>
<text x="639.5" y="427" font-family="Liberation Sans, sans-serif" font-size="9" fill="#6e6e6e" text-anchor="middle">2021</text>
<text x="705.9" y="427" font-family="Liberation Sans, sans-serif" font-size="9" fill="#6e6e6e" text-anchor="middle">2022</text>
<text x="772.3" y="427" font-family="Liberation Sans, sans-serif" font-size="9" fill="#6e6e6e" text-anchor="middle">2023</text>
<circle cx="41.3" cy="70.2" r="3" fill="#82969e"/>
<text x="47.8" y="73.4" font-family="Liberation Sans, sans-serif" font-size="9.3" fill="#333" stroke="#333" stroke-width="0.2" textLength="67.5" lengthAdjust="spacingAndGlyphs">BTC: Price [USD]</text>
<circle cx="140.7" cy="70.2" r="3" fill="#f7931a"/>
<text x="147" y="73.4" font-family="Liberation Sans, sans-serif" font-size="9.3" fill="#cfcfcf" stroke="#cfcfcf" stroke-width="0" textLength="120.3" lengthAdjust="spacingAndGlyphs">BTC: Circulating Supply [BTC]</text>
<circle cx="292.5" cy="70.2" r="3" fill="#f7931a"/>
<text x="298.7" y="73.4" font-family="Liberation Sans, sans-serif" font-size="9.3" fill="#cfcfcf" stroke="#cfcfcf" stroke-width="0" textLength="82.8" lengthAdjust="spacingAndGlyphs">BTC: Issuance [BTC]</text>
<circle cx="406" cy="70.2" r="3" fill="#b83cc5"/>
<text x="412.5" y="73.4" font-family="Liberation Sans, sans-serif" font-size="9.3" fill="#333" stroke="#333" stroke-width="0.2" textLength="56" lengthAdjust="spacingAndGlyphs">Halving Effect</text>
<text y="35.5" font-family="Liberation Sans, sans-serif" font-size="14.9" fill="#2a2a2a" stroke="#2a2a2a" stroke-width="0.3"><tspan x="17.1" textLength="50.9" lengthAdjust="spacingAndGlyphs">Halving</tspan> <tspan x="71.4" textLength="41.1" lengthAdjust="spacingAndGlyphs">Effect</tspan></text>
<text x="17.6" y="460.2" font-family="Liberation Sans, sans-serif" font-size="9.6" fill="#8a8a8a" textLength="179" lengthAdjust="spacingAndGlyphs">© 2023 Glassnode. All Rights Reserved.</text>
<text y="461" font-family="Liberation Sans, sans-serif" font-size="19" fill="#111" stroke="#111" stroke-width="0.8"><tspan x="740.78" textLength="12.23" lengthAdjust="spacingAndGlyphs">g</tspan><tspan x="753.28" textLength="3.71" lengthAdjust="spacingAndGlyphs">l</tspan><tspan x="757.72" textLength="10.36" lengthAdjust="spacingAndGlyphs">a</tspan><tspan x="769.96" textLength="7.48" lengthAdjust="spacingAndGlyphs">s</tspan><tspan x="778.49" textLength="7.81" lengthAdjust="spacingAndGlyphs">s</tspan><tspan x="786.74" textLength="10.53" lengthAdjust="spacingAndGlyphs">n</tspan><tspan x="797.16" textLength="11.65" lengthAdjust="spacingAndGlyphs">o</tspan><tspan x="808.70" textLength="12.43" lengthAdjust="spacingAndGlyphs">d</tspan><tspan x="820.85" textLength="11.46" lengthAdjust="spacingAndGlyphs">e</tspan></text>
</svg>
</body></html>
